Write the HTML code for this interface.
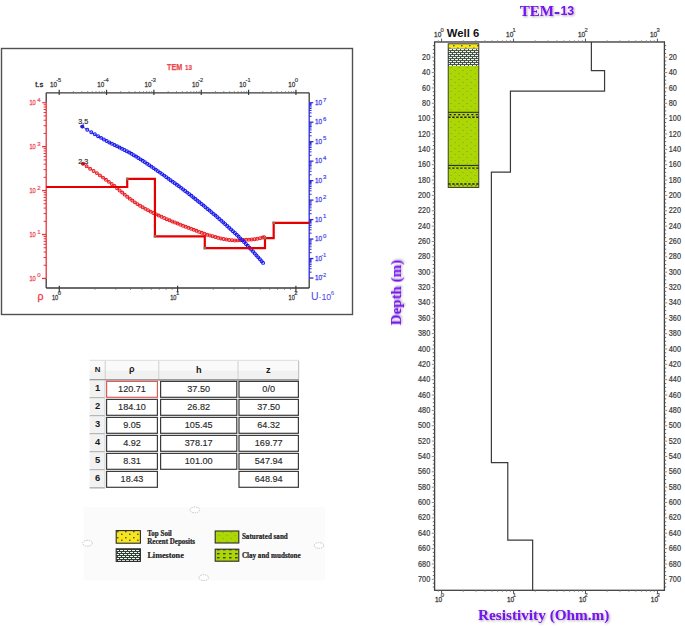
<!DOCTYPE html>
<html><head><meta charset="utf-8"><title>TEM-13</title>
<style>html,body{margin:0;padding:0;background:#fff;width:685px;height:626px;overflow:hidden;font-family:"Liberation Sans",sans-serif}svg{display:block}</style>
</head><body><svg width="685" height="626" viewBox="0 0 685 626"><defs>
<filter id="sh" x="-10%" y="-30%" width="120%" height="160%"><feGaussianBlur in="SourceAlpha" stdDeviation="0.8"/><feOffset dx="0.8" dy="1.2" result="b"/><feFlood flood-color="#000" flood-opacity="0.35"/><feComposite in2="b" operator="in"/><feMerge><feMergeNode/><feMergeNode in="SourceGraphic"/></feMerge></filter>
<pattern id="pTop" patternUnits="userSpaceOnUse" width="8" height="6" x="116" y="530"><rect width="8" height="6" fill="#f6e622"/><rect x="1" y="1" width="1.6" height="1.4" fill="#6b5e18"/><rect x="5" y="3.6" width="1.6" height="1.4" fill="#6b5e18"/></pattern>
<pattern id="pLimeL" patternUnits="userSpaceOnUse" width="8" height="4" x="116" y="550"><rect width="8" height="4" fill="#33403a"/><rect x="0" y="0" width="3" height="1" fill="#f0f5ec"/><rect x="4" y="0" width="3" height="1" fill="#f0f5ec"/><rect x="2" y="2" width="3" height="1" fill="#f0f5ec"/><rect x="6" y="2" width="3" height="1" fill="#f0f5ec"/><rect x="-2" y="2" width="3" height="1" fill="#f0f5ec"/></pattern>
<pattern id="pLime" patternUnits="userSpaceOnUse" width="8" height="4" x="449" y="49"><rect width="8" height="4" fill="#3a4a3e"/><rect x="0" y="0" width="3" height="1.1" fill="#f0f5ec"/><rect x="4" y="0" width="3" height="1.1" fill="#f0f5ec"/><rect x="2" y="2" width="3" height="1.1" fill="#f0f5ec"/><rect x="6" y="2" width="3" height="1.1" fill="#f0f5ec"/><rect x="-2" y="2" width="3" height="1.1" fill="#f0f5ec"/></pattern>
<pattern id="pSand" patternUnits="userSpaceOnUse" width="8" height="6" x="449" y="66"><rect width="8" height="6" fill="#acd605"/><rect x="1.6" y="1" width="1" height="1" fill="#86aa08"/><rect x="5.6" y="4" width="1" height="1" fill="#86aa08"/></pattern>
<pattern id="pClay" patternUnits="userSpaceOnUse" width="6" height="4"><rect width="6" height="4" fill="#acd605"/><rect x="1" y="1.2" width="2.6" height="1.1" fill="#222"/></pattern>
<pattern id="pClayB" patternUnits="userSpaceOnUse" width="5" height="200" y="0"><rect width="5" height="200" fill="#acd605"/></pattern>
</defs><rect x="1.5" y="48.5" width="351" height="266" fill="#fff" stroke="#505050" stroke-width="1.4"/><line x1="46.2" y1="92.8" x2="309.2" y2="92.8" stroke="#3a3a3a" stroke-width="1.3"/><line x1="46.2" y1="288" x2="309.2" y2="288" stroke="#3a3a3a" stroke-width="1.3"/><line x1="46.2" y1="92.8" x2="46.2" y2="102.73" stroke="#3a3a3a" stroke-width="1.3"/><line x1="46.2" y1="102.73" x2="46.2" y2="278.45" stroke="#e8333a" stroke-width="1.3"/><line x1="46.2" y1="278.45" x2="46.2" y2="288" stroke="#3a3a3a" stroke-width="1.3"/><line x1="309.2" y1="92.8" x2="309.2" y2="102.7" stroke="#3a3a3a" stroke-width="1.3"/><line x1="309.2" y1="102.7" x2="309.2" y2="278.02" stroke="#2b2bd8" stroke-width="1.3"/><line x1="309.2" y1="278.02" x2="309.2" y2="288" stroke="#3a3a3a" stroke-width="1.3"/><line x1="59.2" y1="89.8" x2="59.2" y2="95" stroke="#3a3a3a" stroke-width="1.2"/><line x1="73.45" y1="91.2" x2="73.45" y2="92.8" stroke="#666" stroke-width="0.8"/><line x1="81.79" y1="91.2" x2="81.79" y2="92.8" stroke="#666" stroke-width="0.8"/><line x1="87.71" y1="91.2" x2="87.71" y2="92.8" stroke="#666" stroke-width="0.8"/><line x1="92.3" y1="91.2" x2="92.3" y2="92.8" stroke="#666" stroke-width="0.8"/><line x1="96.05" y1="91.2" x2="96.05" y2="92.8" stroke="#666" stroke-width="0.8"/><line x1="99.22" y1="91.2" x2="99.22" y2="92.8" stroke="#666" stroke-width="0.8"/><line x1="101.96" y1="91.2" x2="101.96" y2="92.8" stroke="#666" stroke-width="0.8"/><line x1="104.38" y1="91.2" x2="104.38" y2="92.8" stroke="#666" stroke-width="0.8"/><line x1="106.55" y1="89.8" x2="106.55" y2="95" stroke="#3a3a3a" stroke-width="1.2"/><line x1="120.8" y1="91.2" x2="120.8" y2="92.8" stroke="#666" stroke-width="0.8"/><line x1="129.14" y1="91.2" x2="129.14" y2="92.8" stroke="#666" stroke-width="0.8"/><line x1="135.06" y1="91.2" x2="135.06" y2="92.8" stroke="#666" stroke-width="0.8"/><line x1="139.65" y1="91.2" x2="139.65" y2="92.8" stroke="#666" stroke-width="0.8"/><line x1="143.4" y1="91.2" x2="143.4" y2="92.8" stroke="#666" stroke-width="0.8"/><line x1="146.57" y1="91.2" x2="146.57" y2="92.8" stroke="#666" stroke-width="0.8"/><line x1="149.31" y1="91.2" x2="149.31" y2="92.8" stroke="#666" stroke-width="0.8"/><line x1="151.73" y1="91.2" x2="151.73" y2="92.8" stroke="#666" stroke-width="0.8"/><line x1="153.9" y1="89.8" x2="153.9" y2="95" stroke="#3a3a3a" stroke-width="1.2"/><line x1="168.15" y1="91.2" x2="168.15" y2="92.8" stroke="#666" stroke-width="0.8"/><line x1="176.49" y1="91.2" x2="176.49" y2="92.8" stroke="#666" stroke-width="0.8"/><line x1="182.41" y1="91.2" x2="182.41" y2="92.8" stroke="#666" stroke-width="0.8"/><line x1="187" y1="91.2" x2="187" y2="92.8" stroke="#666" stroke-width="0.8"/><line x1="190.75" y1="91.2" x2="190.75" y2="92.8" stroke="#666" stroke-width="0.8"/><line x1="193.92" y1="91.2" x2="193.92" y2="92.8" stroke="#666" stroke-width="0.8"/><line x1="196.66" y1="91.2" x2="196.66" y2="92.8" stroke="#666" stroke-width="0.8"/><line x1="199.08" y1="91.2" x2="199.08" y2="92.8" stroke="#666" stroke-width="0.8"/><line x1="201.25" y1="89.8" x2="201.25" y2="95" stroke="#3a3a3a" stroke-width="1.2"/><line x1="215.5" y1="91.2" x2="215.5" y2="92.8" stroke="#666" stroke-width="0.8"/><line x1="223.84" y1="91.2" x2="223.84" y2="92.8" stroke="#666" stroke-width="0.8"/><line x1="229.76" y1="91.2" x2="229.76" y2="92.8" stroke="#666" stroke-width="0.8"/><line x1="234.35" y1="91.2" x2="234.35" y2="92.8" stroke="#666" stroke-width="0.8"/><line x1="238.1" y1="91.2" x2="238.1" y2="92.8" stroke="#666" stroke-width="0.8"/><line x1="241.27" y1="91.2" x2="241.27" y2="92.8" stroke="#666" stroke-width="0.8"/><line x1="244.01" y1="91.2" x2="244.01" y2="92.8" stroke="#666" stroke-width="0.8"/><line x1="246.43" y1="91.2" x2="246.43" y2="92.8" stroke="#666" stroke-width="0.8"/><line x1="248.6" y1="89.8" x2="248.6" y2="95" stroke="#3a3a3a" stroke-width="1.2"/><line x1="262.85" y1="91.2" x2="262.85" y2="92.8" stroke="#666" stroke-width="0.8"/><line x1="271.19" y1="91.2" x2="271.19" y2="92.8" stroke="#666" stroke-width="0.8"/><line x1="277.11" y1="91.2" x2="277.11" y2="92.8" stroke="#666" stroke-width="0.8"/><line x1="281.7" y1="91.2" x2="281.7" y2="92.8" stroke="#666" stroke-width="0.8"/><line x1="285.45" y1="91.2" x2="285.45" y2="92.8" stroke="#666" stroke-width="0.8"/><line x1="288.62" y1="91.2" x2="288.62" y2="92.8" stroke="#666" stroke-width="0.8"/><line x1="291.36" y1="91.2" x2="291.36" y2="92.8" stroke="#666" stroke-width="0.8"/><line x1="293.78" y1="91.2" x2="293.78" y2="92.8" stroke="#666" stroke-width="0.8"/><line x1="295.95" y1="89.8" x2="295.95" y2="95" stroke="#3a3a3a" stroke-width="1.2"/><text x="49.9" y="86.6" font-size="7.8" fill="#3c3c3c" stroke="#3c3c3c" stroke-width="0.3" font-family='"Liberation Sans", sans-serif' textLength="7" lengthAdjust="spacingAndGlyphs">10</text><text x="56.2" y="81.6" font-size="6" fill="#3c3c3c" stroke="#3c3c3c" stroke-width="0.2" font-family='"Liberation Sans", sans-serif' textLength="5" lengthAdjust="spacingAndGlyphs">-5</text><text x="97.25" y="86.6" font-size="7.8" fill="#3c3c3c" stroke="#3c3c3c" stroke-width="0.3" font-family='"Liberation Sans", sans-serif' textLength="7" lengthAdjust="spacingAndGlyphs">10</text><text x="103.55" y="81.6" font-size="6" fill="#3c3c3c" stroke="#3c3c3c" stroke-width="0.2" font-family='"Liberation Sans", sans-serif' textLength="5" lengthAdjust="spacingAndGlyphs">-4</text><text x="144.6" y="86.6" font-size="7.8" fill="#3c3c3c" stroke="#3c3c3c" stroke-width="0.3" font-family='"Liberation Sans", sans-serif' textLength="7" lengthAdjust="spacingAndGlyphs">10</text><text x="150.9" y="81.6" font-size="6" fill="#3c3c3c" stroke="#3c3c3c" stroke-width="0.2" font-family='"Liberation Sans", sans-serif' textLength="5" lengthAdjust="spacingAndGlyphs">-3</text><text x="191.95" y="86.6" font-size="7.8" fill="#3c3c3c" stroke="#3c3c3c" stroke-width="0.3" font-family='"Liberation Sans", sans-serif' textLength="7" lengthAdjust="spacingAndGlyphs">10</text><text x="198.25" y="81.6" font-size="6" fill="#3c3c3c" stroke="#3c3c3c" stroke-width="0.2" font-family='"Liberation Sans", sans-serif' textLength="5" lengthAdjust="spacingAndGlyphs">-2</text><text x="239.3" y="86.6" font-size="7.8" fill="#3c3c3c" stroke="#3c3c3c" stroke-width="0.3" font-family='"Liberation Sans", sans-serif' textLength="7" lengthAdjust="spacingAndGlyphs">10</text><text x="245.6" y="81.6" font-size="6" fill="#3c3c3c" stroke="#3c3c3c" stroke-width="0.2" font-family='"Liberation Sans", sans-serif' textLength="5" lengthAdjust="spacingAndGlyphs">-1</text><text x="288.15" y="86.6" font-size="7.8" fill="#3c3c3c" stroke="#3c3c3c" stroke-width="0.3" font-family='"Liberation Sans", sans-serif' textLength="7" lengthAdjust="spacingAndGlyphs">10</text><text x="294.75" y="81.6" font-size="6" fill="#3c3c3c" stroke="#3c3c3c" stroke-width="0.2" font-family='"Liberation Sans", sans-serif' >0</text><text x="43.2" y="87.4" font-size="7.6" fill="#2a2a2a" text-anchor="end" font-weight="normal" font-family='"Liberation Sans", sans-serif' stroke="#2a2a2a" stroke-width="0.3">t.s</text><text x="167.1" y="70" font-family='"Liberation Sans", sans-serif' font-weight="bold" fill="#ec4a50" stroke="#ec4a50" stroke-width="0.25" font-size="8.6" textLength="15.2" lengthAdjust="spacingAndGlyphs">TEM</text><text x="185.0" y="70" font-family='"Liberation Sans", sans-serif' font-weight="bold" fill="#ec4a50" stroke="#ec4a50" stroke-width="0.2" font-size="7" textLength="7.0" lengthAdjust="spacingAndGlyphs">13</text><line x1="42" y1="278.45" x2="46.2" y2="278.45" stroke="#e8333a" stroke-width="1.3"/><line x1="43.6" y1="265.23" x2="46.2" y2="265.23" stroke="#e8333a" stroke-width="1"/><line x1="43.6" y1="257.49" x2="46.2" y2="257.49" stroke="#e8333a" stroke-width="1"/><line x1="43.6" y1="252" x2="46.2" y2="252" stroke="#e8333a" stroke-width="1"/><line x1="43.6" y1="247.74" x2="46.2" y2="247.74" stroke="#e8333a" stroke-width="1"/><line x1="43.6" y1="244.27" x2="46.2" y2="244.27" stroke="#e8333a" stroke-width="1"/><line x1="43.6" y1="241.32" x2="46.2" y2="241.32" stroke="#e8333a" stroke-width="1"/><line x1="43.6" y1="238.78" x2="46.2" y2="238.78" stroke="#e8333a" stroke-width="1"/><line x1="43.6" y1="236.53" x2="46.2" y2="236.53" stroke="#e8333a" stroke-width="1"/><line x1="42" y1="234.52" x2="46.2" y2="234.52" stroke="#e8333a" stroke-width="1.3"/><line x1="43.6" y1="221.3" x2="46.2" y2="221.3" stroke="#e8333a" stroke-width="1"/><line x1="43.6" y1="213.56" x2="46.2" y2="213.56" stroke="#e8333a" stroke-width="1"/><line x1="43.6" y1="208.07" x2="46.2" y2="208.07" stroke="#e8333a" stroke-width="1"/><line x1="43.6" y1="203.81" x2="46.2" y2="203.81" stroke="#e8333a" stroke-width="1"/><line x1="43.6" y1="200.34" x2="46.2" y2="200.34" stroke="#e8333a" stroke-width="1"/><line x1="43.6" y1="197.39" x2="46.2" y2="197.39" stroke="#e8333a" stroke-width="1"/><line x1="43.6" y1="194.85" x2="46.2" y2="194.85" stroke="#e8333a" stroke-width="1"/><line x1="43.6" y1="192.6" x2="46.2" y2="192.6" stroke="#e8333a" stroke-width="1"/><line x1="42" y1="190.59" x2="46.2" y2="190.59" stroke="#e8333a" stroke-width="1.3"/><line x1="43.6" y1="177.37" x2="46.2" y2="177.37" stroke="#e8333a" stroke-width="1"/><line x1="43.6" y1="169.63" x2="46.2" y2="169.63" stroke="#e8333a" stroke-width="1"/><line x1="43.6" y1="164.14" x2="46.2" y2="164.14" stroke="#e8333a" stroke-width="1"/><line x1="43.6" y1="159.88" x2="46.2" y2="159.88" stroke="#e8333a" stroke-width="1"/><line x1="43.6" y1="156.41" x2="46.2" y2="156.41" stroke="#e8333a" stroke-width="1"/><line x1="43.6" y1="153.46" x2="46.2" y2="153.46" stroke="#e8333a" stroke-width="1"/><line x1="43.6" y1="150.92" x2="46.2" y2="150.92" stroke="#e8333a" stroke-width="1"/><line x1="43.6" y1="148.67" x2="46.2" y2="148.67" stroke="#e8333a" stroke-width="1"/><line x1="42" y1="146.66" x2="46.2" y2="146.66" stroke="#e8333a" stroke-width="1.3"/><line x1="43.6" y1="133.44" x2="46.2" y2="133.44" stroke="#e8333a" stroke-width="1"/><line x1="43.6" y1="125.7" x2="46.2" y2="125.7" stroke="#e8333a" stroke-width="1"/><line x1="43.6" y1="120.21" x2="46.2" y2="120.21" stroke="#e8333a" stroke-width="1"/><line x1="43.6" y1="115.95" x2="46.2" y2="115.95" stroke="#e8333a" stroke-width="1"/><line x1="43.6" y1="112.48" x2="46.2" y2="112.48" stroke="#e8333a" stroke-width="1"/><line x1="43.6" y1="109.53" x2="46.2" y2="109.53" stroke="#e8333a" stroke-width="1"/><line x1="43.6" y1="106.99" x2="46.2" y2="106.99" stroke="#e8333a" stroke-width="1"/><line x1="43.6" y1="104.74" x2="46.2" y2="104.74" stroke="#e8333a" stroke-width="1"/><line x1="42.2" y1="102.73" x2="46.2" y2="102.73" stroke="#e8333a" stroke-width="1.2"/><text x="29.4" y="280.55" font-size="7.8" fill="#ee4a52" stroke="#ee4a52" stroke-width="0.3" font-family='"Liberation Sans", sans-serif' textLength="6.4" lengthAdjust="spacingAndGlyphs">10</text><text x="37.2" y="277.45" font-size="6" fill="#ee4a52" stroke="#ee4a52" stroke-width="0.2" font-family='"Liberation Sans", sans-serif' >0</text><text x="29.4" y="236.62" font-size="7.8" fill="#ee4a52" stroke="#ee4a52" stroke-width="0.3" font-family='"Liberation Sans", sans-serif' textLength="6.4" lengthAdjust="spacingAndGlyphs">10</text><text x="37.2" y="233.52" font-size="6" fill="#ee4a52" stroke="#ee4a52" stroke-width="0.2" font-family='"Liberation Sans", sans-serif' >1</text><text x="29.4" y="192.69" font-size="7.8" fill="#ee4a52" stroke="#ee4a52" stroke-width="0.3" font-family='"Liberation Sans", sans-serif' textLength="6.4" lengthAdjust="spacingAndGlyphs">10</text><text x="37.2" y="189.59" font-size="6" fill="#ee4a52" stroke="#ee4a52" stroke-width="0.2" font-family='"Liberation Sans", sans-serif' >2</text><text x="29.4" y="148.76" font-size="7.8" fill="#ee4a52" stroke="#ee4a52" stroke-width="0.3" font-family='"Liberation Sans", sans-serif' textLength="6.4" lengthAdjust="spacingAndGlyphs">10</text><text x="37.2" y="145.66" font-size="6" fill="#ee4a52" stroke="#ee4a52" stroke-width="0.2" font-family='"Liberation Sans", sans-serif' >3</text><text x="29.4" y="104.83" font-size="7.8" fill="#ee4a52" stroke="#ee4a52" stroke-width="0.3" font-family='"Liberation Sans", sans-serif' textLength="6.4" lengthAdjust="spacingAndGlyphs">10</text><text x="37.2" y="101.73" font-size="6" fill="#ee4a52" stroke="#ee4a52" stroke-width="0.2" font-family='"Liberation Sans", sans-serif' >4</text><line x1="309.2" y1="278.02" x2="313.4" y2="278.02" stroke="#2b2bd8" stroke-width="1.3"/><line x1="309.2" y1="272.16" x2="311.6" y2="272.16" stroke="#2b2bd8" stroke-width="1"/><line x1="309.2" y1="268.73" x2="311.6" y2="268.73" stroke="#2b2bd8" stroke-width="1"/><line x1="309.2" y1="266.29" x2="311.6" y2="266.29" stroke="#2b2bd8" stroke-width="1"/><line x1="309.2" y1="264.4" x2="311.6" y2="264.4" stroke="#2b2bd8" stroke-width="1"/><line x1="309.2" y1="262.86" x2="311.6" y2="262.86" stroke="#2b2bd8" stroke-width="1"/><line x1="309.2" y1="261.56" x2="311.6" y2="261.56" stroke="#2b2bd8" stroke-width="1"/><line x1="309.2" y1="260.43" x2="311.6" y2="260.43" stroke="#2b2bd8" stroke-width="1"/><line x1="309.2" y1="259.43" x2="311.6" y2="259.43" stroke="#2b2bd8" stroke-width="1"/><line x1="309.2" y1="258.54" x2="313.4" y2="258.54" stroke="#2b2bd8" stroke-width="1.3"/><line x1="309.2" y1="252.68" x2="311.6" y2="252.68" stroke="#2b2bd8" stroke-width="1"/><line x1="309.2" y1="249.25" x2="311.6" y2="249.25" stroke="#2b2bd8" stroke-width="1"/><line x1="309.2" y1="246.81" x2="311.6" y2="246.81" stroke="#2b2bd8" stroke-width="1"/><line x1="309.2" y1="244.92" x2="311.6" y2="244.92" stroke="#2b2bd8" stroke-width="1"/><line x1="309.2" y1="243.38" x2="311.6" y2="243.38" stroke="#2b2bd8" stroke-width="1"/><line x1="309.2" y1="242.08" x2="311.6" y2="242.08" stroke="#2b2bd8" stroke-width="1"/><line x1="309.2" y1="240.95" x2="311.6" y2="240.95" stroke="#2b2bd8" stroke-width="1"/><line x1="309.2" y1="239.95" x2="311.6" y2="239.95" stroke="#2b2bd8" stroke-width="1"/><line x1="309.2" y1="239.06" x2="313.4" y2="239.06" stroke="#2b2bd8" stroke-width="1.3"/><line x1="309.2" y1="233.2" x2="311.6" y2="233.2" stroke="#2b2bd8" stroke-width="1"/><line x1="309.2" y1="229.77" x2="311.6" y2="229.77" stroke="#2b2bd8" stroke-width="1"/><line x1="309.2" y1="227.33" x2="311.6" y2="227.33" stroke="#2b2bd8" stroke-width="1"/><line x1="309.2" y1="225.44" x2="311.6" y2="225.44" stroke="#2b2bd8" stroke-width="1"/><line x1="309.2" y1="223.9" x2="311.6" y2="223.9" stroke="#2b2bd8" stroke-width="1"/><line x1="309.2" y1="222.6" x2="311.6" y2="222.6" stroke="#2b2bd8" stroke-width="1"/><line x1="309.2" y1="221.47" x2="311.6" y2="221.47" stroke="#2b2bd8" stroke-width="1"/><line x1="309.2" y1="220.47" x2="311.6" y2="220.47" stroke="#2b2bd8" stroke-width="1"/><line x1="309.2" y1="219.58" x2="313.4" y2="219.58" stroke="#2b2bd8" stroke-width="1.3"/><line x1="309.2" y1="213.72" x2="311.6" y2="213.72" stroke="#2b2bd8" stroke-width="1"/><line x1="309.2" y1="210.29" x2="311.6" y2="210.29" stroke="#2b2bd8" stroke-width="1"/><line x1="309.2" y1="207.85" x2="311.6" y2="207.85" stroke="#2b2bd8" stroke-width="1"/><line x1="309.2" y1="205.96" x2="311.6" y2="205.96" stroke="#2b2bd8" stroke-width="1"/><line x1="309.2" y1="204.42" x2="311.6" y2="204.42" stroke="#2b2bd8" stroke-width="1"/><line x1="309.2" y1="203.12" x2="311.6" y2="203.12" stroke="#2b2bd8" stroke-width="1"/><line x1="309.2" y1="201.99" x2="311.6" y2="201.99" stroke="#2b2bd8" stroke-width="1"/><line x1="309.2" y1="200.99" x2="311.6" y2="200.99" stroke="#2b2bd8" stroke-width="1"/><line x1="309.2" y1="200.1" x2="313.4" y2="200.1" stroke="#2b2bd8" stroke-width="1.3"/><line x1="309.2" y1="194.24" x2="311.6" y2="194.24" stroke="#2b2bd8" stroke-width="1"/><line x1="309.2" y1="190.81" x2="311.6" y2="190.81" stroke="#2b2bd8" stroke-width="1"/><line x1="309.2" y1="188.37" x2="311.6" y2="188.37" stroke="#2b2bd8" stroke-width="1"/><line x1="309.2" y1="186.48" x2="311.6" y2="186.48" stroke="#2b2bd8" stroke-width="1"/><line x1="309.2" y1="184.94" x2="311.6" y2="184.94" stroke="#2b2bd8" stroke-width="1"/><line x1="309.2" y1="183.64" x2="311.6" y2="183.64" stroke="#2b2bd8" stroke-width="1"/><line x1="309.2" y1="182.51" x2="311.6" y2="182.51" stroke="#2b2bd8" stroke-width="1"/><line x1="309.2" y1="181.51" x2="311.6" y2="181.51" stroke="#2b2bd8" stroke-width="1"/><line x1="309.2" y1="180.62" x2="313.4" y2="180.62" stroke="#2b2bd8" stroke-width="1.3"/><line x1="309.2" y1="174.76" x2="311.6" y2="174.76" stroke="#2b2bd8" stroke-width="1"/><line x1="309.2" y1="171.33" x2="311.6" y2="171.33" stroke="#2b2bd8" stroke-width="1"/><line x1="309.2" y1="168.89" x2="311.6" y2="168.89" stroke="#2b2bd8" stroke-width="1"/><line x1="309.2" y1="167" x2="311.6" y2="167" stroke="#2b2bd8" stroke-width="1"/><line x1="309.2" y1="165.46" x2="311.6" y2="165.46" stroke="#2b2bd8" stroke-width="1"/><line x1="309.2" y1="164.16" x2="311.6" y2="164.16" stroke="#2b2bd8" stroke-width="1"/><line x1="309.2" y1="163.03" x2="311.6" y2="163.03" stroke="#2b2bd8" stroke-width="1"/><line x1="309.2" y1="162.03" x2="311.6" y2="162.03" stroke="#2b2bd8" stroke-width="1"/><line x1="309.2" y1="161.14" x2="313.4" y2="161.14" stroke="#2b2bd8" stroke-width="1.3"/><line x1="309.2" y1="155.28" x2="311.6" y2="155.28" stroke="#2b2bd8" stroke-width="1"/><line x1="309.2" y1="151.85" x2="311.6" y2="151.85" stroke="#2b2bd8" stroke-width="1"/><line x1="309.2" y1="149.41" x2="311.6" y2="149.41" stroke="#2b2bd8" stroke-width="1"/><line x1="309.2" y1="147.52" x2="311.6" y2="147.52" stroke="#2b2bd8" stroke-width="1"/><line x1="309.2" y1="145.98" x2="311.6" y2="145.98" stroke="#2b2bd8" stroke-width="1"/><line x1="309.2" y1="144.68" x2="311.6" y2="144.68" stroke="#2b2bd8" stroke-width="1"/><line x1="309.2" y1="143.55" x2="311.6" y2="143.55" stroke="#2b2bd8" stroke-width="1"/><line x1="309.2" y1="142.55" x2="311.6" y2="142.55" stroke="#2b2bd8" stroke-width="1"/><line x1="309.2" y1="141.66" x2="313.4" y2="141.66" stroke="#2b2bd8" stroke-width="1.3"/><line x1="309.2" y1="135.8" x2="311.6" y2="135.8" stroke="#2b2bd8" stroke-width="1"/><line x1="309.2" y1="132.37" x2="311.6" y2="132.37" stroke="#2b2bd8" stroke-width="1"/><line x1="309.2" y1="129.93" x2="311.6" y2="129.93" stroke="#2b2bd8" stroke-width="1"/><line x1="309.2" y1="128.04" x2="311.6" y2="128.04" stroke="#2b2bd8" stroke-width="1"/><line x1="309.2" y1="126.5" x2="311.6" y2="126.5" stroke="#2b2bd8" stroke-width="1"/><line x1="309.2" y1="125.2" x2="311.6" y2="125.2" stroke="#2b2bd8" stroke-width="1"/><line x1="309.2" y1="124.07" x2="311.6" y2="124.07" stroke="#2b2bd8" stroke-width="1"/><line x1="309.2" y1="123.07" x2="311.6" y2="123.07" stroke="#2b2bd8" stroke-width="1"/><line x1="309.2" y1="122.18" x2="313.4" y2="122.18" stroke="#2b2bd8" stroke-width="1.3"/><line x1="309.2" y1="116.32" x2="311.6" y2="116.32" stroke="#2b2bd8" stroke-width="1"/><line x1="309.2" y1="112.89" x2="311.6" y2="112.89" stroke="#2b2bd8" stroke-width="1"/><line x1="309.2" y1="110.45" x2="311.6" y2="110.45" stroke="#2b2bd8" stroke-width="1"/><line x1="309.2" y1="108.56" x2="311.6" y2="108.56" stroke="#2b2bd8" stroke-width="1"/><line x1="309.2" y1="107.02" x2="311.6" y2="107.02" stroke="#2b2bd8" stroke-width="1"/><line x1="309.2" y1="105.72" x2="311.6" y2="105.72" stroke="#2b2bd8" stroke-width="1"/><line x1="309.2" y1="104.59" x2="311.6" y2="104.59" stroke="#2b2bd8" stroke-width="1"/><line x1="309.2" y1="103.59" x2="311.6" y2="103.59" stroke="#2b2bd8" stroke-width="1"/><line x1="309.2" y1="102.7" x2="313.2" y2="102.7" stroke="#2b2bd8" stroke-width="1.2"/><text x="314.9" y="280.02" font-size="7.8" fill="#4646ee" stroke="#4646ee" stroke-width="0.3" font-family='"Liberation Sans", sans-serif' textLength="7.1" lengthAdjust="spacingAndGlyphs">10</text><text x="321.6" y="276.82" font-size="6" fill="#4646ee" stroke="#4646ee" stroke-width="0.2" font-family='"Liberation Sans", sans-serif' textLength="4.6" lengthAdjust="spacingAndGlyphs">-2</text><text x="314.9" y="260.54" font-size="7.8" fill="#4646ee" stroke="#4646ee" stroke-width="0.3" font-family='"Liberation Sans", sans-serif' textLength="7.1" lengthAdjust="spacingAndGlyphs">10</text><text x="321.6" y="257.34" font-size="6" fill="#4646ee" stroke="#4646ee" stroke-width="0.2" font-family='"Liberation Sans", sans-serif' textLength="4.6" lengthAdjust="spacingAndGlyphs">-1</text><text x="314.9" y="241.06" font-size="7.8" fill="#4646ee" stroke="#4646ee" stroke-width="0.3" font-family='"Liberation Sans", sans-serif' textLength="7.1" lengthAdjust="spacingAndGlyphs">10</text><text x="322.9" y="237.86" font-size="6" fill="#4646ee" stroke="#4646ee" stroke-width="0.2" font-family='"Liberation Sans", sans-serif' >0</text><text x="314.9" y="221.58" font-size="7.8" fill="#4646ee" stroke="#4646ee" stroke-width="0.3" font-family='"Liberation Sans", sans-serif' textLength="7.1" lengthAdjust="spacingAndGlyphs">10</text><text x="322.9" y="218.38" font-size="6" fill="#4646ee" stroke="#4646ee" stroke-width="0.2" font-family='"Liberation Sans", sans-serif' >1</text><text x="314.9" y="202.1" font-size="7.8" fill="#4646ee" stroke="#4646ee" stroke-width="0.3" font-family='"Liberation Sans", sans-serif' textLength="7.1" lengthAdjust="spacingAndGlyphs">10</text><text x="322.9" y="198.9" font-size="6" fill="#4646ee" stroke="#4646ee" stroke-width="0.2" font-family='"Liberation Sans", sans-serif' >2</text><text x="314.9" y="182.62" font-size="7.8" fill="#4646ee" stroke="#4646ee" stroke-width="0.3" font-family='"Liberation Sans", sans-serif' textLength="7.1" lengthAdjust="spacingAndGlyphs">10</text><text x="322.9" y="179.42" font-size="6" fill="#4646ee" stroke="#4646ee" stroke-width="0.2" font-family='"Liberation Sans", sans-serif' >3</text><text x="314.9" y="163.14" font-size="7.8" fill="#4646ee" stroke="#4646ee" stroke-width="0.3" font-family='"Liberation Sans", sans-serif' textLength="7.1" lengthAdjust="spacingAndGlyphs">10</text><text x="322.9" y="159.94" font-size="6" fill="#4646ee" stroke="#4646ee" stroke-width="0.2" font-family='"Liberation Sans", sans-serif' >4</text><text x="314.9" y="143.66" font-size="7.8" fill="#4646ee" stroke="#4646ee" stroke-width="0.3" font-family='"Liberation Sans", sans-serif' textLength="7.1" lengthAdjust="spacingAndGlyphs">10</text><text x="322.9" y="140.46" font-size="6" fill="#4646ee" stroke="#4646ee" stroke-width="0.2" font-family='"Liberation Sans", sans-serif' >5</text><text x="314.9" y="124.18" font-size="7.8" fill="#4646ee" stroke="#4646ee" stroke-width="0.3" font-family='"Liberation Sans", sans-serif' textLength="7.1" lengthAdjust="spacingAndGlyphs">10</text><text x="322.9" y="120.98" font-size="6" fill="#4646ee" stroke="#4646ee" stroke-width="0.2" font-family='"Liberation Sans", sans-serif' >6</text><text x="314.9" y="104.7" font-size="7.8" fill="#4646ee" stroke="#4646ee" stroke-width="0.3" font-family='"Liberation Sans", sans-serif' textLength="7.1" lengthAdjust="spacingAndGlyphs">10</text><text x="322.9" y="101.5" font-size="6" fill="#4646ee" stroke="#4646ee" stroke-width="0.2" font-family='"Liberation Sans", sans-serif' >7</text><line x1="59.3" y1="285.8" x2="59.3" y2="292.5" stroke="#3a3a3a" stroke-width="1.2"/><line x1="94.91" y1="288" x2="94.91" y2="289.8" stroke="#666" stroke-width="0.8"/><line x1="115.74" y1="288" x2="115.74" y2="289.8" stroke="#666" stroke-width="0.8"/><line x1="130.52" y1="288" x2="130.52" y2="289.8" stroke="#666" stroke-width="0.8"/><line x1="141.99" y1="288" x2="141.99" y2="289.8" stroke="#666" stroke-width="0.8"/><line x1="151.36" y1="288" x2="151.36" y2="289.8" stroke="#666" stroke-width="0.8"/><line x1="159.28" y1="288" x2="159.28" y2="289.8" stroke="#666" stroke-width="0.8"/><line x1="166.14" y1="288" x2="166.14" y2="289.8" stroke="#666" stroke-width="0.8"/><line x1="172.19" y1="288" x2="172.19" y2="289.8" stroke="#666" stroke-width="0.8"/><line x1="177.6" y1="285.8" x2="177.6" y2="292.5" stroke="#3a3a3a" stroke-width="1.2"/><line x1="213.21" y1="288" x2="213.21" y2="289.8" stroke="#666" stroke-width="0.8"/><line x1="234.04" y1="288" x2="234.04" y2="289.8" stroke="#666" stroke-width="0.8"/><line x1="248.82" y1="288" x2="248.82" y2="289.8" stroke="#666" stroke-width="0.8"/><line x1="260.29" y1="288" x2="260.29" y2="289.8" stroke="#666" stroke-width="0.8"/><line x1="269.66" y1="288" x2="269.66" y2="289.8" stroke="#666" stroke-width="0.8"/><line x1="277.58" y1="288" x2="277.58" y2="289.8" stroke="#666" stroke-width="0.8"/><line x1="284.44" y1="288" x2="284.44" y2="289.8" stroke="#666" stroke-width="0.8"/><line x1="290.49" y1="288" x2="290.49" y2="289.8" stroke="#666" stroke-width="0.8"/><line x1="295.9" y1="285.8" x2="295.9" y2="292.5" stroke="#3a3a3a" stroke-width="1.2"/><text x="51.9" y="300" font-size="7.8" fill="#3c3c3c" stroke="#3c3c3c" stroke-width="0.3" font-family='"Liberation Sans", sans-serif' textLength="6.3" lengthAdjust="spacingAndGlyphs">10</text><text x="57.7" y="295.4" font-size="6" fill="#3c3c3c" stroke="#3c3c3c" stroke-width="0.2" font-family='"Liberation Sans", sans-serif' >0</text><text x="170.2" y="300" font-size="7.8" fill="#3c3c3c" stroke="#3c3c3c" stroke-width="0.3" font-family='"Liberation Sans", sans-serif' textLength="6.3" lengthAdjust="spacingAndGlyphs">10</text><text x="176" y="295.4" font-size="6" fill="#3c3c3c" stroke="#3c3c3c" stroke-width="0.2" font-family='"Liberation Sans", sans-serif' >1</text><text x="288.5" y="300" font-size="7.8" fill="#3c3c3c" stroke="#3c3c3c" stroke-width="0.3" font-family='"Liberation Sans", sans-serif' textLength="6.3" lengthAdjust="spacingAndGlyphs">10</text><text x="294.3" y="295.4" font-size="6" fill="#3c3c3c" stroke="#3c3c3c" stroke-width="0.2" font-family='"Liberation Sans", sans-serif' >2</text><text x="37.4" y="300.4" font-size="10.5" fill="#f03c46" text-anchor="start" font-weight="normal" font-family='"Liberation Sans", sans-serif' stroke="#f03c46" stroke-width="0.3">ρ</text><text x="311.0" y="300.2" font-family='"Liberation Sans", sans-serif' fill="#4646ee" font-size="10.4">U<tspan font-size="8.8" dx="0">·10</tspan><tspan font-size="6.2" dy="-5.2" dx="-0.4">6</tspan></text><polyline points="83.1,163.7 88.45,167.65 93.12,170.7 97.5,173.52 101.9,176.8 106.28,180.05 110.62,183.05 115,186.45 119.4,190.25 123.8,193.9 128.18,197.4 132.75,200.9 138.53,204.83 146.22,209.38 156.15,214.4 169.15,220.17 182.22,225.4 191.72,229 199.23,231.93 205.82,234.25 211.68,236.02 217.53,237.65 223.38,238.97 229.2,240.03 235.03,240.55 240.57,240.22 245.22,239.75 249.6,239.62 254.6,239.22 259.57,238.32 264.2,237.2" fill="none" stroke="#e81c22" stroke-width="0.8"/><g fill="none" stroke="#e81c22" stroke-width="1.05"><circle cx="83.1" cy="163.7" r="1.45"/><circle cx="86.64" cy="166.31" r="1.45"/><circle cx="90.11" cy="168.73" r="1.45"/><circle cx="93.54" cy="170.97" r="1.45"/><circle cx="96.87" cy="173.12" r="1.45"/><circle cx="99.99" cy="175.38" r="1.45"/><circle cx="103" cy="177.62" r="1.45"/><circle cx="105.95" cy="179.81" r="1.45"/><circle cx="108.9" cy="181.86" r="1.45"/><circle cx="111.76" cy="183.93" r="1.45"/><circle cx="114.49" cy="186.06" r="1.45"/><circle cx="117.09" cy="188.26" r="1.45"/><circle cx="119.64" cy="190.45" r="1.45"/><circle cx="122.19" cy="192.57" r="1.45"/><circle cx="124.73" cy="194.64" r="1.45"/><circle cx="127.25" cy="196.66" r="1.45"/><circle cx="129.78" cy="198.63" r="1.45"/><circle cx="132.3" cy="200.56" r="1.45"/><circle cx="134.88" cy="202.35" r="1.45"/><circle cx="137.46" cy="204.1" r="1.45"/><circle cx="140.08" cy="205.74" r="1.45"/><circle cx="142.73" cy="207.31" r="1.45"/><circle cx="145.35" cy="208.86" r="1.45"/><circle cx="148.03" cy="210.29" r="1.45"/><circle cx="150.72" cy="211.65" r="1.45"/><circle cx="153.4" cy="213.01" r="1.45"/><circle cx="156.06" cy="214.35" r="1.45"/><circle cx="158.78" cy="215.57" r="1.45"/><circle cx="161.48" cy="216.77" r="1.45"/><circle cx="164.18" cy="217.97" r="1.45"/><circle cx="166.86" cy="219.16" r="1.45"/><circle cx="169.54" cy="220.33" r="1.45"/><circle cx="172.25" cy="221.42" r="1.45"/><circle cx="174.96" cy="222.5" r="1.45"/><circle cx="177.65" cy="223.57" r="1.45"/><circle cx="180.34" cy="224.65" r="1.45"/><circle cx="183.03" cy="225.71" r="1.45"/><circle cx="185.73" cy="226.73" r="1.45"/><circle cx="188.42" cy="227.75" r="1.45"/><circle cx="191.1" cy="228.76" r="1.45"/><circle cx="193.78" cy="229.8" r="1.45"/><circle cx="196.44" cy="230.84" r="1.45"/><circle cx="199.11" cy="231.88" r="1.45"/><circle cx="201.8" cy="232.83" r="1.45"/><circle cx="204.49" cy="233.78" r="1.45"/><circle cx="207.19" cy="234.66" r="1.45"/><circle cx="209.91" cy="235.49" r="1.45"/><circle cx="212.64" cy="236.29" r="1.45"/><circle cx="215.37" cy="237.05" r="1.45"/><circle cx="218.11" cy="237.78" r="1.45"/><circle cx="220.87" cy="238.41" r="1.45"/><circle cx="223.63" cy="239.02" r="1.45"/><circle cx="226.42" cy="239.52" r="1.45"/><circle cx="229.2" cy="240.03" r="1.45"/><circle cx="232.01" cy="240.28" r="1.45"/><circle cx="234.83" cy="240.53" r="1.45"/><circle cx="237.64" cy="240.4" r="1.45"/><circle cx="240.46" cy="240.23" r="1.45"/><circle cx="243.26" cy="239.95" r="1.45"/><circle cx="246.07" cy="239.73" r="1.45"/><circle cx="248.88" cy="239.65" r="1.45"/><circle cx="251.69" cy="239.46" r="1.45"/><circle cx="254.5" cy="239.23" r="1.45"/><circle cx="257.27" cy="238.74" r="1.45"/><circle cx="260.03" cy="238.21" r="1.45"/><circle cx="262.76" cy="237.55" r="1.45"/><circle cx="264.2" cy="237.2" r="1.45"/></g><polyline points="82.4,126.6 87.62,129.97 92.67,133.02 97.95,136.1 104.3,139.7 111.07,143.35 117.62,146.62 124.18,149.85 131.05,153.55 138.9,158.27 147.53,163.93 156.28,169.97 165.03,176.18 173.78,182.48 182.47,188.9 192.15,196.4 203.52,205.57 214.42,214.65 224.25,223.2 235.02,233.1 245.82,243.78 254.9,253.57 263.1,262.9" fill="none" stroke="#1616ee" stroke-width="0.8"/><g fill="none" stroke="#1616ee" stroke-width="1.05"><circle cx="82.4" cy="126.6" r="1.45"/><circle cx="87.27" cy="129.75" r="1.45"/><circle cx="91.3" cy="132.2" r="1.45"/><circle cx="94.84" cy="134.29" r="1.45"/><circle cx="98.06" cy="136.16" r="1.45"/><circle cx="101.07" cy="137.87" r="1.45"/><circle cx="103.92" cy="139.48" r="1.45"/><circle cx="106.67" cy="140.98" r="1.45"/><circle cx="109.34" cy="142.41" r="1.45"/><circle cx="111.94" cy="143.78" r="1.45"/><circle cx="114.52" cy="145.07" r="1.45"/><circle cx="117.04" cy="146.33" r="1.45"/><circle cx="119.54" cy="147.57" r="1.45"/><circle cx="122.01" cy="148.78" r="1.45"/><circle cx="124.45" cy="150" r="1.45"/><circle cx="126.83" cy="151.28" r="1.45"/><circle cx="129.19" cy="152.55" r="1.45"/><circle cx="131.53" cy="153.84" r="1.45"/><circle cx="133.81" cy="155.21" r="1.45"/><circle cx="136.08" cy="156.58" r="1.45"/><circle cx="138.34" cy="157.94" r="1.45"/><circle cx="140.55" cy="159.36" r="1.45"/><circle cx="142.75" cy="160.8" r="1.45"/><circle cx="144.94" cy="162.23" r="1.45"/><circle cx="147.14" cy="163.67" r="1.45"/><circle cx="149.29" cy="165.15" r="1.45"/><circle cx="151.44" cy="166.63" r="1.45"/><circle cx="153.59" cy="168.12" r="1.45"/><circle cx="155.74" cy="169.6" r="1.45"/><circle cx="157.87" cy="171.1" r="1.45"/><circle cx="159.99" cy="172.61" r="1.45"/><circle cx="162.12" cy="174.12" r="1.45"/><circle cx="164.24" cy="175.62" r="1.45"/><circle cx="166.36" cy="177.14" r="1.45"/><circle cx="168.47" cy="178.66" r="1.45"/><circle cx="170.59" cy="180.18" r="1.45"/><circle cx="172.7" cy="181.7" r="1.45"/><circle cx="174.8" cy="183.23" r="1.45"/><circle cx="176.89" cy="184.78" r="1.45"/><circle cx="178.98" cy="186.32" r="1.45"/><circle cx="181.08" cy="187.87" r="1.45"/><circle cx="183.16" cy="189.43" r="1.45"/><circle cx="185.21" cy="191.02" r="1.45"/><circle cx="187.27" cy="192.61" r="1.45"/><circle cx="189.32" cy="194.21" r="1.45"/><circle cx="191.38" cy="195.8" r="1.45"/><circle cx="193.41" cy="197.42" r="1.45"/><circle cx="195.44" cy="199.05" r="1.45"/><circle cx="197.46" cy="200.68" r="1.45"/><circle cx="199.48" cy="202.32" r="1.45"/><circle cx="201.51" cy="203.95" r="1.45"/><circle cx="203.53" cy="205.58" r="1.45"/><circle cx="205.53" cy="207.24" r="1.45"/><circle cx="207.53" cy="208.91" r="1.45"/><circle cx="209.53" cy="210.57" r="1.45"/><circle cx="211.53" cy="212.24" r="1.45"/><circle cx="213.52" cy="213.9" r="1.45"/><circle cx="215.5" cy="215.59" r="1.45"/><circle cx="217.46" cy="217.29" r="1.45"/><circle cx="219.42" cy="219" r="1.45"/><circle cx="221.39" cy="220.71" r="1.45"/><circle cx="223.35" cy="222.41" r="1.45"/><circle cx="225.28" cy="224.15" r="1.45"/><circle cx="227.2" cy="225.91" r="1.45"/><circle cx="229.11" cy="227.67" r="1.45"/><circle cx="231.03" cy="229.43" r="1.45"/><circle cx="232.94" cy="231.19" r="1.45"/><circle cx="234.86" cy="232.94" r="1.45"/><circle cx="236.71" cy="234.77" r="1.45"/><circle cx="238.56" cy="236.59" r="1.45"/><circle cx="240.41" cy="238.42" r="1.45"/><circle cx="242.26" cy="240.25" r="1.45"/><circle cx="244.11" cy="242.08" r="1.45"/><circle cx="245.95" cy="243.91" r="1.45"/><circle cx="247.72" cy="245.82" r="1.45"/><circle cx="249.48" cy="247.73" r="1.45"/><circle cx="251.25" cy="249.63" r="1.45"/><circle cx="253.02" cy="251.54" r="1.45"/><circle cx="254.78" cy="253.45" r="1.45"/><circle cx="256.5" cy="255.4" r="1.45"/><circle cx="258.22" cy="257.35" r="1.45"/><circle cx="259.94" cy="259.3" r="1.45"/><circle cx="261.65" cy="261.26" r="1.45"/><circle cx="263.1" cy="262.9" r="1.45"/></g><circle cx="82.8" cy="163.6" r="1.7" fill="#e01010"/><circle cx="82.1" cy="126.5" r="1.7" fill="#2020d0"/><text x="78.2" y="123.6" font-size="7.2" fill="#2e2e2e" text-anchor="start" font-weight="normal" font-family='"Liberation Sans", sans-serif' stroke="#2e2e2e" stroke-width="0.2">3,5</text><text x="78.2" y="164.4" font-size="7.2" fill="#2e2e2e" text-anchor="start" font-weight="normal" font-family='"Liberation Sans", sans-serif' stroke="#2e2e2e" stroke-width="0.2">2,3</text><polyline points="46.2,187 127.21,187 127.21,178.95 154.93,178.95 154.93,236.42 204.79,236.42 204.79,248.05 264.99,248.05 264.99,238.05 273.68,238.05 273.68,222.86 309.2,222.86" fill="none" stroke="#e40000" stroke-width="2.2" stroke-linejoin="miter"/><rect x="125.91" y="177.65" width="2.6" height="2.6" fill="#8e7a66" opacity="0.85"/><rect x="153.63" y="235.12" width="2.6" height="2.6" fill="#8e7a66" opacity="0.85"/><rect x="203.49" y="246.75" width="2.6" height="2.6" fill="#8e7a66" opacity="0.85"/><rect x="263.69" y="236.75" width="2.6" height="2.6" fill="#8e7a66" opacity="0.85"/><rect x="272.38" y="221.56" width="2.6" height="2.6" fill="#8e7a66" opacity="0.85"/><rect x="89.6" y="360.4" width="209.4" height="10.4" fill="#fafafa"/><rect x="89.6" y="370.6" width="209.4" height="8.6" fill="#f1f1f1"/><line x1="89.6" y1="360.4" x2="299" y2="360.4" stroke="#e2e2e2" stroke-width="1.2"/><line x1="105.2" y1="361" x2="105.2" y2="379" stroke="#cfcfcf" stroke-width="1"/><line x1="158.8" y1="361" x2="158.8" y2="379" stroke="#cfcfcf" stroke-width="1"/><line x1="238" y1="361" x2="238" y2="379" stroke="#cfcfcf" stroke-width="1"/><line x1="298.6" y1="361" x2="298.6" y2="379" stroke="#c4c4c4" stroke-width="1.2"/><line x1="89.6" y1="379.9" x2="299" y2="379.9" stroke="#9c9c9c" stroke-width="1.6"/><text x="97.6" y="372.3" font-size="7.8" fill="#1a1a1a" text-anchor="middle" font-weight="bold" font-family='"Liberation Sans", sans-serif' >N</text><text x="131.8" y="371.8" font-size="9" fill="#1a1a1a" text-anchor="middle" font-weight="bold" font-family='"Liberation Sans", sans-serif' >ρ</text><text x="198.7" y="372.6" font-size="9.2" fill="#1a1a1a" text-anchor="middle" font-weight="bold" font-family='"Liberation Sans", sans-serif' >h</text><text x="268.4" y="372.6" font-size="9.2" fill="#1a1a1a" text-anchor="middle" font-weight="bold" font-family='"Liberation Sans", sans-serif' >z</text><rect x="89.6" y="380.4" width="15.4" height="18" fill="#f2f2f2"/><line x1="89.6" y1="397.8" x2="105" y2="397.8" stroke="#b4b4b4" stroke-width="1.5"/><line x1="105" y1="380.4" x2="105" y2="398.4" stroke="#d0d0d0" stroke-width="1"/><text x="97.5" y="391" font-size="9.4" fill="#1a1a1a" text-anchor="middle" font-weight="bold" font-family='"Liberation Sans", sans-serif' >1</text><rect x="106.6" y="381.4" width="50.8" height="15.9" fill="#fff" stroke="#e05a5a" stroke-width="1.2"/><text x="132" y="392.2" font-size="9.1" fill="#2a2a2a" text-anchor="middle" font-weight="normal" font-family='"Liberation Sans", sans-serif' stroke="#2a2a2a" stroke-width="0.15">120.71</text><rect x="160.6" y="381.4" width="76.2" height="15.9" fill="#fff" stroke="#3c3c3c" stroke-width="1.2"/><text x="198.7" y="392.2" font-size="9.1" fill="#2a2a2a" text-anchor="middle" font-weight="normal" font-family='"Liberation Sans", sans-serif' stroke="#2a2a2a" stroke-width="0.15">37.50</text><rect x="239" y="381.4" width="59.4" height="15.9" fill="#fff" stroke="#3c3c3c" stroke-width="1.2"/><text x="268.7" y="392.2" font-size="9.1" fill="#2a2a2a" text-anchor="middle" font-weight="normal" font-family='"Liberation Sans", sans-serif' stroke="#2a2a2a" stroke-width="0.15">0/0</text><rect x="89.6" y="398.4" width="15.4" height="18" fill="#f2f2f2"/><line x1="89.6" y1="415.8" x2="105" y2="415.8" stroke="#b4b4b4" stroke-width="1.5"/><line x1="105" y1="398.4" x2="105" y2="416.4" stroke="#d0d0d0" stroke-width="1"/><text x="97.5" y="409" font-size="9.4" fill="#1a1a1a" text-anchor="middle" font-weight="bold" font-family='"Liberation Sans", sans-serif' >2</text><rect x="106.6" y="399.4" width="50.8" height="15.9" fill="#fff" stroke="#3c3c3c" stroke-width="1.2"/><text x="132" y="410.2" font-size="9.1" fill="#2a2a2a" text-anchor="middle" font-weight="normal" font-family='"Liberation Sans", sans-serif' stroke="#2a2a2a" stroke-width="0.15">184.10</text><rect x="160.6" y="399.4" width="76.2" height="15.9" fill="#fff" stroke="#3c3c3c" stroke-width="1.2"/><text x="198.7" y="410.2" font-size="9.1" fill="#2a2a2a" text-anchor="middle" font-weight="normal" font-family='"Liberation Sans", sans-serif' stroke="#2a2a2a" stroke-width="0.15">26.82</text><rect x="239" y="399.4" width="59.4" height="15.9" fill="#fff" stroke="#3c3c3c" stroke-width="1.2"/><text x="268.7" y="410.2" font-size="9.1" fill="#2a2a2a" text-anchor="middle" font-weight="normal" font-family='"Liberation Sans", sans-serif' stroke="#2a2a2a" stroke-width="0.15">37.50</text><rect x="89.6" y="416.4" width="15.4" height="18" fill="#f2f2f2"/><line x1="89.6" y1="433.8" x2="105" y2="433.8" stroke="#b4b4b4" stroke-width="1.5"/><line x1="105" y1="416.4" x2="105" y2="434.4" stroke="#d0d0d0" stroke-width="1"/><text x="97.5" y="427" font-size="9.4" fill="#1a1a1a" text-anchor="middle" font-weight="bold" font-family='"Liberation Sans", sans-serif' >3</text><rect x="106.6" y="417.4" width="50.8" height="15.9" fill="#fff" stroke="#3c3c3c" stroke-width="1.2"/><text x="132" y="428.2" font-size="9.1" fill="#2a2a2a" text-anchor="middle" font-weight="normal" font-family='"Liberation Sans", sans-serif' stroke="#2a2a2a" stroke-width="0.15">9.05</text><rect x="160.6" y="417.4" width="76.2" height="15.9" fill="#fff" stroke="#3c3c3c" stroke-width="1.2"/><text x="198.7" y="428.2" font-size="9.1" fill="#2a2a2a" text-anchor="middle" font-weight="normal" font-family='"Liberation Sans", sans-serif' stroke="#2a2a2a" stroke-width="0.15">105.45</text><rect x="239" y="417.4" width="59.4" height="15.9" fill="#fff" stroke="#3c3c3c" stroke-width="1.2"/><text x="268.7" y="428.2" font-size="9.1" fill="#2a2a2a" text-anchor="middle" font-weight="normal" font-family='"Liberation Sans", sans-serif' stroke="#2a2a2a" stroke-width="0.15">64.32</text><rect x="89.6" y="434.4" width="15.4" height="18" fill="#f2f2f2"/><line x1="89.6" y1="451.8" x2="105" y2="451.8" stroke="#b4b4b4" stroke-width="1.5"/><line x1="105" y1="434.4" x2="105" y2="452.4" stroke="#d0d0d0" stroke-width="1"/><text x="97.5" y="445" font-size="9.4" fill="#1a1a1a" text-anchor="middle" font-weight="bold" font-family='"Liberation Sans", sans-serif' >4</text><rect x="106.6" y="435.4" width="50.8" height="15.9" fill="#fff" stroke="#3c3c3c" stroke-width="1.2"/><text x="132" y="446.2" font-size="9.1" fill="#2a2a2a" text-anchor="middle" font-weight="normal" font-family='"Liberation Sans", sans-serif' stroke="#2a2a2a" stroke-width="0.15">4.92</text><rect x="160.6" y="435.4" width="76.2" height="15.9" fill="#fff" stroke="#3c3c3c" stroke-width="1.2"/><text x="198.7" y="446.2" font-size="9.1" fill="#2a2a2a" text-anchor="middle" font-weight="normal" font-family='"Liberation Sans", sans-serif' stroke="#2a2a2a" stroke-width="0.15">378.17</text><rect x="239" y="435.4" width="59.4" height="15.9" fill="#fff" stroke="#3c3c3c" stroke-width="1.2"/><text x="268.7" y="446.2" font-size="9.1" fill="#2a2a2a" text-anchor="middle" font-weight="normal" font-family='"Liberation Sans", sans-serif' stroke="#2a2a2a" stroke-width="0.15">169.77</text><rect x="89.6" y="452.4" width="15.4" height="18" fill="#f2f2f2"/><line x1="89.6" y1="469.8" x2="105" y2="469.8" stroke="#b4b4b4" stroke-width="1.5"/><line x1="105" y1="452.4" x2="105" y2="470.4" stroke="#d0d0d0" stroke-width="1"/><text x="97.5" y="463" font-size="9.4" fill="#1a1a1a" text-anchor="middle" font-weight="bold" font-family='"Liberation Sans", sans-serif' >5</text><rect x="106.6" y="453.4" width="50.8" height="15.9" fill="#fff" stroke="#3c3c3c" stroke-width="1.2"/><text x="132" y="464.2" font-size="9.1" fill="#2a2a2a" text-anchor="middle" font-weight="normal" font-family='"Liberation Sans", sans-serif' stroke="#2a2a2a" stroke-width="0.15">8.31</text><rect x="160.6" y="453.4" width="76.2" height="15.9" fill="#fff" stroke="#3c3c3c" stroke-width="1.2"/><text x="198.7" y="464.2" font-size="9.1" fill="#2a2a2a" text-anchor="middle" font-weight="normal" font-family='"Liberation Sans", sans-serif' stroke="#2a2a2a" stroke-width="0.15">101.00</text><rect x="239" y="453.4" width="59.4" height="15.9" fill="#fff" stroke="#3c3c3c" stroke-width="1.2"/><text x="268.7" y="464.2" font-size="9.1" fill="#2a2a2a" text-anchor="middle" font-weight="normal" font-family='"Liberation Sans", sans-serif' stroke="#2a2a2a" stroke-width="0.15">547.94</text><rect x="89.6" y="470.4" width="15.4" height="18" fill="#f2f2f2"/><line x1="89.6" y1="487.8" x2="105" y2="487.8" stroke="#b4b4b4" stroke-width="1.5"/><line x1="105" y1="470.4" x2="105" y2="488.4" stroke="#d0d0d0" stroke-width="1"/><text x="97.5" y="481" font-size="9.4" fill="#1a1a1a" text-anchor="middle" font-weight="bold" font-family='"Liberation Sans", sans-serif' >6</text><rect x="106.6" y="471.4" width="50.8" height="15.9" fill="#fff" stroke="#3c3c3c" stroke-width="1.2"/><text x="132" y="482.2" font-size="9.1" fill="#2a2a2a" text-anchor="middle" font-weight="normal" font-family='"Liberation Sans", sans-serif' stroke="#2a2a2a" stroke-width="0.15">18.43</text><rect x="239" y="471.4" width="59.4" height="15.9" fill="#fff" stroke="#3c3c3c" stroke-width="1.2"/><text x="268.7" y="482.2" font-size="9.1" fill="#2a2a2a" text-anchor="middle" font-weight="normal" font-family='"Liberation Sans", sans-serif' stroke="#2a2a2a" stroke-width="0.15">648.94</text><rect x="83.5" y="507" width="241.5" height="73.5" fill="#fbfbfb"/><ellipse cx="87.5" cy="543.3" rx="4.8" ry="2.9" fill="#fff" stroke="#a8a8a8" stroke-width="0.7" stroke-dasharray="1.4 1"/><ellipse cx="194.9" cy="509.9" rx="4.8" ry="2.9" fill="#fff" stroke="#a8a8a8" stroke-width="0.7" stroke-dasharray="1.4 1"/><ellipse cx="319" cy="545.5" rx="4.8" ry="2.9" fill="#fff" stroke="#a8a8a8" stroke-width="0.7" stroke-dasharray="1.4 1"/><ellipse cx="203.7" cy="577.6" rx="4.8" ry="2.9" fill="#fff" stroke="#a8a8a8" stroke-width="0.7" stroke-dasharray="1.4 1"/><rect x="116.2" y="530.6" width="24.2" height="12.6" fill="url(#pTop)" stroke="#2a2a2a" stroke-width="1.1"/><rect x="116.2" y="548.8" width="24.2" height="12.6" fill="url(#pLimeL)" stroke="#2a2a2a" stroke-width="1.1"/><rect x="215.2" y="531.0" width="23.6" height="12.0" fill="url(#pSand)" stroke="#2a2a2a" stroke-width="1.1"/><rect x="215.2" y="549.2" width="23.6" height="12.0" fill="url(#pClay)" stroke="#2a2a2a" stroke-width="1.1"/><text x="147.3" y="535.8" font-size="7.5" fill="#1e1e1e" text-anchor="start" font-weight="bold" font-family='"Liberation Serif", serif' stroke="#1e1e1e" stroke-width="0.22" textLength="24.5" lengthAdjust="spacingAndGlyphs">Top Soil</text><text x="147.3" y="543.6" font-size="7.4" fill="#1e1e1e" text-anchor="start" font-weight="bold" font-family='"Liberation Serif", serif' stroke="#1e1e1e" stroke-width="0.22" textLength="47.8" lengthAdjust="spacingAndGlyphs">Recent Deposits</text><text x="147.4" y="558.2" font-size="9.2" fill="#1e1e1e" text-anchor="start" font-weight="bold" font-family='"Liberation Serif", serif' stroke="#1e1e1e" stroke-width="0.22" textLength="36.4" lengthAdjust="spacingAndGlyphs">Limestone</text><text x="241.9" y="539.2" font-size="7.6" fill="#1e1e1e" text-anchor="start" font-weight="bold" font-family='"Liberation Serif", serif' stroke="#1e1e1e" stroke-width="0.22" textLength="45.9" lengthAdjust="spacingAndGlyphs">Saturated sand</text><text x="241.9" y="557.9" font-size="7.4" fill="#1e1e1e" text-anchor="start" font-weight="bold" font-family='"Liberation Serif", serif' stroke="#1e1e1e" stroke-width="0.22" textLength="58.8" lengthAdjust="spacingAndGlyphs">Clay and mudstone</text><g style="filter:url(#sh)"><text x="519.7" y="16.4" font-family='"Liberation Serif", serif' font-weight="bold" fill="#7412ee" font-size="15">TEM</text><rect x="554.7" y="12.0" width="4.6" height="2.0" fill="#7412ee"/><text x="560.4" y="15.0" font-family='"Liberation Sans", sans-serif' font-weight="bold" fill="#7412ee" font-size="13" textLength="13.8" lengthAdjust="spacingAndGlyphs">13</text></g><rect x="434.6" y="41.9" width="229.8" height="548.4" fill="#fff" stroke="#404040" stroke-width="1.3"/><line x1="435.2" y1="41.9" x2="663.8" y2="41.9" stroke="#767676" stroke-width="1.7"/><rect x="448.2" y="43.8" width="30.6" height="4.8" fill="url(#pTop)"/><rect x="448.2" y="48.6" width="30.6" height="17.4" fill="url(#pLime)"/><rect x="448.2" y="66" width="30.6" height="46.3" fill="url(#pSand)"/><rect x="448.2" y="112.3" width="30.6" height="5" fill="url(#pSand)"/><rect x="448.2" y="117.3" width="30.6" height="48.1" fill="url(#pSand)"/><rect x="448.2" y="165.4" width="30.6" height="2.8" fill="url(#pSand)"/><rect x="448.2" y="168.2" width="30.6" height="15.8" fill="url(#pSand)"/><rect x="448.2" y="184" width="30.6" height="3.4" fill="url(#pSand)"/><line x1="448.2" y1="112.3" x2="478.8" y2="112.3" stroke="#1e1e1e" stroke-width="1"/><line x1="449.4" y1="114.6" x2="478.8" y2="114.6" stroke="#1e1e1e" stroke-width="1.1" stroke-dasharray="2 2.4"/><line x1="448.2" y1="117.3" x2="478.8" y2="117.3" stroke="#1e1e1e" stroke-width="1.4" stroke-dasharray="2.4 1.6"/><line x1="448.2" y1="165.4" x2="478.8" y2="165.4" stroke="#1e1e1e" stroke-width="1"/><line x1="448.2" y1="168.2" x2="478.8" y2="168.2" stroke="#1e1e1e" stroke-width="1.3" stroke-dasharray="2.4 1.6"/><line x1="448.2" y1="184" x2="478.8" y2="184" stroke="#1e1e1e" stroke-width="1.4" stroke-dasharray="2.4 1.6"/><line x1="449.8" y1="185.8" x2="478.8" y2="185.8" stroke="#3a4a10" stroke-width="0.8" stroke-dasharray="1.6 2.6"/><rect x="448.2" y="43.8" width="30.6" height="143.6" fill="none" stroke="#2a2a2a" stroke-width="0.9"/><line x1="438.31" y1="40.1" x2="438.31" y2="41.9" stroke="#888" stroke-width="0.8"/><line x1="438.31" y1="590.3" x2="438.31" y2="592.1" stroke="#888" stroke-width="0.8"/><line x1="441.6" y1="38.7" x2="441.6" y2="41.9" stroke="#555" stroke-width="1"/><line x1="441.6" y1="590.3" x2="441.6" y2="593.5" stroke="#555" stroke-width="1"/><line x1="463.26" y1="40.1" x2="463.26" y2="41.9" stroke="#888" stroke-width="0.8"/><line x1="463.26" y1="590.3" x2="463.26" y2="592.1" stroke="#888" stroke-width="0.8"/><line x1="475.93" y1="40.1" x2="475.93" y2="41.9" stroke="#888" stroke-width="0.8"/><line x1="475.93" y1="590.3" x2="475.93" y2="592.1" stroke="#888" stroke-width="0.8"/><line x1="484.92" y1="40.1" x2="484.92" y2="41.9" stroke="#888" stroke-width="0.8"/><line x1="484.92" y1="590.3" x2="484.92" y2="592.1" stroke="#888" stroke-width="0.8"/><line x1="491.89" y1="40.1" x2="491.89" y2="41.9" stroke="#888" stroke-width="0.8"/><line x1="491.89" y1="590.3" x2="491.89" y2="592.1" stroke="#888" stroke-width="0.8"/><line x1="497.59" y1="40.1" x2="497.59" y2="41.9" stroke="#888" stroke-width="0.8"/><line x1="497.59" y1="590.3" x2="497.59" y2="592.1" stroke="#888" stroke-width="0.8"/><line x1="502.4" y1="40.1" x2="502.4" y2="41.9" stroke="#888" stroke-width="0.8"/><line x1="502.4" y1="590.3" x2="502.4" y2="592.1" stroke="#888" stroke-width="0.8"/><line x1="506.58" y1="40.1" x2="506.58" y2="41.9" stroke="#888" stroke-width="0.8"/><line x1="506.58" y1="590.3" x2="506.58" y2="592.1" stroke="#888" stroke-width="0.8"/><line x1="510.26" y1="40.1" x2="510.26" y2="41.9" stroke="#888" stroke-width="0.8"/><line x1="510.26" y1="590.3" x2="510.26" y2="592.1" stroke="#888" stroke-width="0.8"/><line x1="513.55" y1="38.7" x2="513.55" y2="41.9" stroke="#555" stroke-width="1"/><line x1="513.55" y1="590.3" x2="513.55" y2="593.5" stroke="#555" stroke-width="1"/><line x1="535.21" y1="40.1" x2="535.21" y2="41.9" stroke="#888" stroke-width="0.8"/><line x1="535.21" y1="590.3" x2="535.21" y2="592.1" stroke="#888" stroke-width="0.8"/><line x1="547.88" y1="40.1" x2="547.88" y2="41.9" stroke="#888" stroke-width="0.8"/><line x1="547.88" y1="590.3" x2="547.88" y2="592.1" stroke="#888" stroke-width="0.8"/><line x1="556.87" y1="40.1" x2="556.87" y2="41.9" stroke="#888" stroke-width="0.8"/><line x1="556.87" y1="590.3" x2="556.87" y2="592.1" stroke="#888" stroke-width="0.8"/><line x1="563.84" y1="40.1" x2="563.84" y2="41.9" stroke="#888" stroke-width="0.8"/><line x1="563.84" y1="590.3" x2="563.84" y2="592.1" stroke="#888" stroke-width="0.8"/><line x1="569.54" y1="40.1" x2="569.54" y2="41.9" stroke="#888" stroke-width="0.8"/><line x1="569.54" y1="590.3" x2="569.54" y2="592.1" stroke="#888" stroke-width="0.8"/><line x1="574.35" y1="40.1" x2="574.35" y2="41.9" stroke="#888" stroke-width="0.8"/><line x1="574.35" y1="590.3" x2="574.35" y2="592.1" stroke="#888" stroke-width="0.8"/><line x1="578.53" y1="40.1" x2="578.53" y2="41.9" stroke="#888" stroke-width="0.8"/><line x1="578.53" y1="590.3" x2="578.53" y2="592.1" stroke="#888" stroke-width="0.8"/><line x1="582.21" y1="40.1" x2="582.21" y2="41.9" stroke="#888" stroke-width="0.8"/><line x1="582.21" y1="590.3" x2="582.21" y2="592.1" stroke="#888" stroke-width="0.8"/><line x1="585.5" y1="38.7" x2="585.5" y2="41.9" stroke="#555" stroke-width="1"/><line x1="585.5" y1="590.3" x2="585.5" y2="593.5" stroke="#555" stroke-width="1"/><line x1="607.16" y1="40.1" x2="607.16" y2="41.9" stroke="#888" stroke-width="0.8"/><line x1="607.16" y1="590.3" x2="607.16" y2="592.1" stroke="#888" stroke-width="0.8"/><line x1="619.83" y1="40.1" x2="619.83" y2="41.9" stroke="#888" stroke-width="0.8"/><line x1="619.83" y1="590.3" x2="619.83" y2="592.1" stroke="#888" stroke-width="0.8"/><line x1="628.82" y1="40.1" x2="628.82" y2="41.9" stroke="#888" stroke-width="0.8"/><line x1="628.82" y1="590.3" x2="628.82" y2="592.1" stroke="#888" stroke-width="0.8"/><line x1="635.79" y1="40.1" x2="635.79" y2="41.9" stroke="#888" stroke-width="0.8"/><line x1="635.79" y1="590.3" x2="635.79" y2="592.1" stroke="#888" stroke-width="0.8"/><line x1="641.49" y1="40.1" x2="641.49" y2="41.9" stroke="#888" stroke-width="0.8"/><line x1="641.49" y1="590.3" x2="641.49" y2="592.1" stroke="#888" stroke-width="0.8"/><line x1="646.3" y1="40.1" x2="646.3" y2="41.9" stroke="#888" stroke-width="0.8"/><line x1="646.3" y1="590.3" x2="646.3" y2="592.1" stroke="#888" stroke-width="0.8"/><line x1="650.48" y1="40.1" x2="650.48" y2="41.9" stroke="#888" stroke-width="0.8"/><line x1="650.48" y1="590.3" x2="650.48" y2="592.1" stroke="#888" stroke-width="0.8"/><line x1="654.16" y1="40.1" x2="654.16" y2="41.9" stroke="#888" stroke-width="0.8"/><line x1="654.16" y1="590.3" x2="654.16" y2="592.1" stroke="#888" stroke-width="0.8"/><line x1="657.45" y1="38.7" x2="657.45" y2="41.9" stroke="#555" stroke-width="1"/><line x1="657.45" y1="590.3" x2="657.45" y2="593.5" stroke="#555" stroke-width="1"/><text x="434.1" y="36.8" font-size="7.6" fill="#3c3c3c" stroke="#3c3c3c" stroke-width="0.3" font-family='"Liberation Sans", sans-serif' textLength="7.2" lengthAdjust="spacingAndGlyphs">10</text><text x="440.6" y="32" font-size="5.8" fill="#3c3c3c" stroke="#3c3c3c" stroke-width="0.2" font-family='"Liberation Sans", sans-serif' >0</text><text x="435" y="601.9" font-size="7.6" fill="#3c3c3c" stroke="#3c3c3c" stroke-width="0.3" font-family='"Liberation Sans", sans-serif' textLength="7.2" lengthAdjust="spacingAndGlyphs">10</text><text x="440.7" y="597" font-size="5.8" fill="#3c3c3c" stroke="#3c3c3c" stroke-width="0.2" font-family='"Liberation Sans", sans-serif' >0</text><text x="506.05" y="36.8" font-size="7.6" fill="#3c3c3c" stroke="#3c3c3c" stroke-width="0.3" font-family='"Liberation Sans", sans-serif' textLength="7.2" lengthAdjust="spacingAndGlyphs">10</text><text x="512.55" y="32" font-size="5.8" fill="#3c3c3c" stroke="#3c3c3c" stroke-width="0.2" font-family='"Liberation Sans", sans-serif' >1</text><text x="506.95" y="601.9" font-size="7.6" fill="#3c3c3c" stroke="#3c3c3c" stroke-width="0.3" font-family='"Liberation Sans", sans-serif' textLength="7.2" lengthAdjust="spacingAndGlyphs">10</text><text x="512.65" y="597" font-size="5.8" fill="#3c3c3c" stroke="#3c3c3c" stroke-width="0.2" font-family='"Liberation Sans", sans-serif' >1</text><text x="578" y="36.8" font-size="7.6" fill="#3c3c3c" stroke="#3c3c3c" stroke-width="0.3" font-family='"Liberation Sans", sans-serif' textLength="7.2" lengthAdjust="spacingAndGlyphs">10</text><text x="584.5" y="32" font-size="5.8" fill="#3c3c3c" stroke="#3c3c3c" stroke-width="0.2" font-family='"Liberation Sans", sans-serif' >2</text><text x="578.9" y="601.9" font-size="7.6" fill="#3c3c3c" stroke="#3c3c3c" stroke-width="0.3" font-family='"Liberation Sans", sans-serif' textLength="7.2" lengthAdjust="spacingAndGlyphs">10</text><text x="584.6" y="597" font-size="5.8" fill="#3c3c3c" stroke="#3c3c3c" stroke-width="0.2" font-family='"Liberation Sans", sans-serif' >2</text><text x="649.95" y="36.8" font-size="7.6" fill="#3c3c3c" stroke="#3c3c3c" stroke-width="0.3" font-family='"Liberation Sans", sans-serif' textLength="7.2" lengthAdjust="spacingAndGlyphs">10</text><text x="656.45" y="32" font-size="5.8" fill="#3c3c3c" stroke="#3c3c3c" stroke-width="0.2" font-family='"Liberation Sans", sans-serif' >3</text><text x="650.85" y="601.9" font-size="7.6" fill="#3c3c3c" stroke="#3c3c3c" stroke-width="0.3" font-family='"Liberation Sans", sans-serif' textLength="7.2" lengthAdjust="spacingAndGlyphs">10</text><text x="656.55" y="597" font-size="5.8" fill="#3c3c3c" stroke="#3c3c3c" stroke-width="0.2" font-family='"Liberation Sans", sans-serif' >3</text><line x1="432.8" y1="45.68" x2="434.6" y2="45.68" stroke="#555" stroke-width="0.9"/><line x1="664.4" y1="45.68" x2="666.2" y2="45.68" stroke="#555" stroke-width="0.9"/><line x1="432.8" y1="49.52" x2="434.6" y2="49.52" stroke="#555" stroke-width="0.9"/><line x1="664.4" y1="49.52" x2="666.2" y2="49.52" stroke="#555" stroke-width="0.9"/><line x1="432.8" y1="53.36" x2="434.6" y2="53.36" stroke="#555" stroke-width="0.9"/><line x1="664.4" y1="53.36" x2="666.2" y2="53.36" stroke="#555" stroke-width="0.9"/><line x1="431.8" y1="57.2" x2="434.6" y2="57.2" stroke="#8a8a8a" stroke-width="1"/><line x1="664.4" y1="57.2" x2="667.2" y2="57.2" stroke="#8a8a8a" stroke-width="1"/><line x1="432.8" y1="61.04" x2="434.6" y2="61.04" stroke="#555" stroke-width="0.9"/><line x1="664.4" y1="61.04" x2="666.2" y2="61.04" stroke="#555" stroke-width="0.9"/><line x1="432.8" y1="64.87" x2="434.6" y2="64.87" stroke="#555" stroke-width="0.9"/><line x1="664.4" y1="64.87" x2="666.2" y2="64.87" stroke="#555" stroke-width="0.9"/><line x1="432.8" y1="68.71" x2="434.6" y2="68.71" stroke="#555" stroke-width="0.9"/><line x1="664.4" y1="68.71" x2="666.2" y2="68.71" stroke="#555" stroke-width="0.9"/><line x1="431.8" y1="72.55" x2="434.6" y2="72.55" stroke="#8a8a8a" stroke-width="1"/><line x1="664.4" y1="72.55" x2="667.2" y2="72.55" stroke="#8a8a8a" stroke-width="1"/><line x1="432.8" y1="76.39" x2="434.6" y2="76.39" stroke="#555" stroke-width="0.9"/><line x1="664.4" y1="76.39" x2="666.2" y2="76.39" stroke="#555" stroke-width="0.9"/><line x1="432.8" y1="80.23" x2="434.6" y2="80.23" stroke="#555" stroke-width="0.9"/><line x1="664.4" y1="80.23" x2="666.2" y2="80.23" stroke="#555" stroke-width="0.9"/><line x1="432.8" y1="84.07" x2="434.6" y2="84.07" stroke="#555" stroke-width="0.9"/><line x1="664.4" y1="84.07" x2="666.2" y2="84.07" stroke="#555" stroke-width="0.9"/><line x1="431.8" y1="87.91" x2="434.6" y2="87.91" stroke="#8a8a8a" stroke-width="1"/><line x1="664.4" y1="87.91" x2="667.2" y2="87.91" stroke="#8a8a8a" stroke-width="1"/><line x1="432.8" y1="91.75" x2="434.6" y2="91.75" stroke="#555" stroke-width="0.9"/><line x1="664.4" y1="91.75" x2="666.2" y2="91.75" stroke="#555" stroke-width="0.9"/><line x1="432.8" y1="95.59" x2="434.6" y2="95.59" stroke="#555" stroke-width="0.9"/><line x1="664.4" y1="95.59" x2="666.2" y2="95.59" stroke="#555" stroke-width="0.9"/><line x1="432.8" y1="99.43" x2="434.6" y2="99.43" stroke="#555" stroke-width="0.9"/><line x1="664.4" y1="99.43" x2="666.2" y2="99.43" stroke="#555" stroke-width="0.9"/><line x1="431.8" y1="103.26" x2="434.6" y2="103.26" stroke="#8a8a8a" stroke-width="1"/><line x1="664.4" y1="103.26" x2="667.2" y2="103.26" stroke="#8a8a8a" stroke-width="1"/><line x1="432.8" y1="107.1" x2="434.6" y2="107.1" stroke="#555" stroke-width="0.9"/><line x1="664.4" y1="107.1" x2="666.2" y2="107.1" stroke="#555" stroke-width="0.9"/><line x1="432.8" y1="110.94" x2="434.6" y2="110.94" stroke="#555" stroke-width="0.9"/><line x1="664.4" y1="110.94" x2="666.2" y2="110.94" stroke="#555" stroke-width="0.9"/><line x1="432.8" y1="114.78" x2="434.6" y2="114.78" stroke="#555" stroke-width="0.9"/><line x1="664.4" y1="114.78" x2="666.2" y2="114.78" stroke="#555" stroke-width="0.9"/><line x1="431.8" y1="118.62" x2="434.6" y2="118.62" stroke="#8a8a8a" stroke-width="1"/><line x1="664.4" y1="118.62" x2="667.2" y2="118.62" stroke="#8a8a8a" stroke-width="1"/><line x1="432.8" y1="122.46" x2="434.6" y2="122.46" stroke="#555" stroke-width="0.9"/><line x1="664.4" y1="122.46" x2="666.2" y2="122.46" stroke="#555" stroke-width="0.9"/><line x1="432.8" y1="126.3" x2="434.6" y2="126.3" stroke="#555" stroke-width="0.9"/><line x1="664.4" y1="126.3" x2="666.2" y2="126.3" stroke="#555" stroke-width="0.9"/><line x1="432.8" y1="130.14" x2="434.6" y2="130.14" stroke="#555" stroke-width="0.9"/><line x1="664.4" y1="130.14" x2="666.2" y2="130.14" stroke="#555" stroke-width="0.9"/><line x1="431.8" y1="133.98" x2="434.6" y2="133.98" stroke="#8a8a8a" stroke-width="1"/><line x1="664.4" y1="133.98" x2="667.2" y2="133.98" stroke="#8a8a8a" stroke-width="1"/><line x1="432.8" y1="137.81" x2="434.6" y2="137.81" stroke="#555" stroke-width="0.9"/><line x1="664.4" y1="137.81" x2="666.2" y2="137.81" stroke="#555" stroke-width="0.9"/><line x1="432.8" y1="141.65" x2="434.6" y2="141.65" stroke="#555" stroke-width="0.9"/><line x1="664.4" y1="141.65" x2="666.2" y2="141.65" stroke="#555" stroke-width="0.9"/><line x1="432.8" y1="145.49" x2="434.6" y2="145.49" stroke="#555" stroke-width="0.9"/><line x1="664.4" y1="145.49" x2="666.2" y2="145.49" stroke="#555" stroke-width="0.9"/><line x1="431.8" y1="149.33" x2="434.6" y2="149.33" stroke="#8a8a8a" stroke-width="1"/><line x1="664.4" y1="149.33" x2="667.2" y2="149.33" stroke="#8a8a8a" stroke-width="1"/><line x1="432.8" y1="153.17" x2="434.6" y2="153.17" stroke="#555" stroke-width="0.9"/><line x1="664.4" y1="153.17" x2="666.2" y2="153.17" stroke="#555" stroke-width="0.9"/><line x1="432.8" y1="157.01" x2="434.6" y2="157.01" stroke="#555" stroke-width="0.9"/><line x1="664.4" y1="157.01" x2="666.2" y2="157.01" stroke="#555" stroke-width="0.9"/><line x1="432.8" y1="160.85" x2="434.6" y2="160.85" stroke="#555" stroke-width="0.9"/><line x1="664.4" y1="160.85" x2="666.2" y2="160.85" stroke="#555" stroke-width="0.9"/><line x1="431.8" y1="164.69" x2="434.6" y2="164.69" stroke="#8a8a8a" stroke-width="1"/><line x1="664.4" y1="164.69" x2="667.2" y2="164.69" stroke="#8a8a8a" stroke-width="1"/><line x1="432.8" y1="168.53" x2="434.6" y2="168.53" stroke="#555" stroke-width="0.9"/><line x1="664.4" y1="168.53" x2="666.2" y2="168.53" stroke="#555" stroke-width="0.9"/><line x1="432.8" y1="172.37" x2="434.6" y2="172.37" stroke="#555" stroke-width="0.9"/><line x1="664.4" y1="172.37" x2="666.2" y2="172.37" stroke="#555" stroke-width="0.9"/><line x1="432.8" y1="176.21" x2="434.6" y2="176.21" stroke="#555" stroke-width="0.9"/><line x1="664.4" y1="176.21" x2="666.2" y2="176.21" stroke="#555" stroke-width="0.9"/><line x1="431.8" y1="180.04" x2="434.6" y2="180.04" stroke="#8a8a8a" stroke-width="1"/><line x1="664.4" y1="180.04" x2="667.2" y2="180.04" stroke="#8a8a8a" stroke-width="1"/><line x1="432.8" y1="183.88" x2="434.6" y2="183.88" stroke="#555" stroke-width="0.9"/><line x1="664.4" y1="183.88" x2="666.2" y2="183.88" stroke="#555" stroke-width="0.9"/><line x1="432.8" y1="187.72" x2="434.6" y2="187.72" stroke="#555" stroke-width="0.9"/><line x1="664.4" y1="187.72" x2="666.2" y2="187.72" stroke="#555" stroke-width="0.9"/><line x1="432.8" y1="191.56" x2="434.6" y2="191.56" stroke="#555" stroke-width="0.9"/><line x1="664.4" y1="191.56" x2="666.2" y2="191.56" stroke="#555" stroke-width="0.9"/><line x1="431.8" y1="195.4" x2="434.6" y2="195.4" stroke="#8a8a8a" stroke-width="1"/><line x1="664.4" y1="195.4" x2="667.2" y2="195.4" stroke="#8a8a8a" stroke-width="1"/><line x1="432.8" y1="199.24" x2="434.6" y2="199.24" stroke="#555" stroke-width="0.9"/><line x1="664.4" y1="199.24" x2="666.2" y2="199.24" stroke="#555" stroke-width="0.9"/><line x1="432.8" y1="203.08" x2="434.6" y2="203.08" stroke="#555" stroke-width="0.9"/><line x1="664.4" y1="203.08" x2="666.2" y2="203.08" stroke="#555" stroke-width="0.9"/><line x1="432.8" y1="206.92" x2="434.6" y2="206.92" stroke="#555" stroke-width="0.9"/><line x1="664.4" y1="206.92" x2="666.2" y2="206.92" stroke="#555" stroke-width="0.9"/><line x1="431.8" y1="210.76" x2="434.6" y2="210.76" stroke="#8a8a8a" stroke-width="1"/><line x1="664.4" y1="210.76" x2="667.2" y2="210.76" stroke="#8a8a8a" stroke-width="1"/><line x1="432.8" y1="214.59" x2="434.6" y2="214.59" stroke="#555" stroke-width="0.9"/><line x1="664.4" y1="214.59" x2="666.2" y2="214.59" stroke="#555" stroke-width="0.9"/><line x1="432.8" y1="218.43" x2="434.6" y2="218.43" stroke="#555" stroke-width="0.9"/><line x1="664.4" y1="218.43" x2="666.2" y2="218.43" stroke="#555" stroke-width="0.9"/><line x1="432.8" y1="222.27" x2="434.6" y2="222.27" stroke="#555" stroke-width="0.9"/><line x1="664.4" y1="222.27" x2="666.2" y2="222.27" stroke="#555" stroke-width="0.9"/><line x1="431.8" y1="226.11" x2="434.6" y2="226.11" stroke="#8a8a8a" stroke-width="1"/><line x1="664.4" y1="226.11" x2="667.2" y2="226.11" stroke="#8a8a8a" stroke-width="1"/><line x1="432.8" y1="229.95" x2="434.6" y2="229.95" stroke="#555" stroke-width="0.9"/><line x1="664.4" y1="229.95" x2="666.2" y2="229.95" stroke="#555" stroke-width="0.9"/><line x1="432.8" y1="233.79" x2="434.6" y2="233.79" stroke="#555" stroke-width="0.9"/><line x1="664.4" y1="233.79" x2="666.2" y2="233.79" stroke="#555" stroke-width="0.9"/><line x1="432.8" y1="237.63" x2="434.6" y2="237.63" stroke="#555" stroke-width="0.9"/><line x1="664.4" y1="237.63" x2="666.2" y2="237.63" stroke="#555" stroke-width="0.9"/><line x1="431.8" y1="241.47" x2="434.6" y2="241.47" stroke="#8a8a8a" stroke-width="1"/><line x1="664.4" y1="241.47" x2="667.2" y2="241.47" stroke="#8a8a8a" stroke-width="1"/><line x1="432.8" y1="245.31" x2="434.6" y2="245.31" stroke="#555" stroke-width="0.9"/><line x1="664.4" y1="245.31" x2="666.2" y2="245.31" stroke="#555" stroke-width="0.9"/><line x1="432.8" y1="249.15" x2="434.6" y2="249.15" stroke="#555" stroke-width="0.9"/><line x1="664.4" y1="249.15" x2="666.2" y2="249.15" stroke="#555" stroke-width="0.9"/><line x1="432.8" y1="252.99" x2="434.6" y2="252.99" stroke="#555" stroke-width="0.9"/><line x1="664.4" y1="252.99" x2="666.2" y2="252.99" stroke="#555" stroke-width="0.9"/><line x1="431.8" y1="256.82" x2="434.6" y2="256.82" stroke="#8a8a8a" stroke-width="1"/><line x1="664.4" y1="256.82" x2="667.2" y2="256.82" stroke="#8a8a8a" stroke-width="1"/><line x1="432.8" y1="260.66" x2="434.6" y2="260.66" stroke="#555" stroke-width="0.9"/><line x1="664.4" y1="260.66" x2="666.2" y2="260.66" stroke="#555" stroke-width="0.9"/><line x1="432.8" y1="264.5" x2="434.6" y2="264.5" stroke="#555" stroke-width="0.9"/><line x1="664.4" y1="264.5" x2="666.2" y2="264.5" stroke="#555" stroke-width="0.9"/><line x1="432.8" y1="268.34" x2="434.6" y2="268.34" stroke="#555" stroke-width="0.9"/><line x1="664.4" y1="268.34" x2="666.2" y2="268.34" stroke="#555" stroke-width="0.9"/><line x1="431.8" y1="272.18" x2="434.6" y2="272.18" stroke="#8a8a8a" stroke-width="1"/><line x1="664.4" y1="272.18" x2="667.2" y2="272.18" stroke="#8a8a8a" stroke-width="1"/><line x1="432.8" y1="276.02" x2="434.6" y2="276.02" stroke="#555" stroke-width="0.9"/><line x1="664.4" y1="276.02" x2="666.2" y2="276.02" stroke="#555" stroke-width="0.9"/><line x1="432.8" y1="279.86" x2="434.6" y2="279.86" stroke="#555" stroke-width="0.9"/><line x1="664.4" y1="279.86" x2="666.2" y2="279.86" stroke="#555" stroke-width="0.9"/><line x1="432.8" y1="283.7" x2="434.6" y2="283.7" stroke="#555" stroke-width="0.9"/><line x1="664.4" y1="283.7" x2="666.2" y2="283.7" stroke="#555" stroke-width="0.9"/><line x1="431.8" y1="287.54" x2="434.6" y2="287.54" stroke="#8a8a8a" stroke-width="1"/><line x1="664.4" y1="287.54" x2="667.2" y2="287.54" stroke="#8a8a8a" stroke-width="1"/><line x1="432.8" y1="291.38" x2="434.6" y2="291.38" stroke="#555" stroke-width="0.9"/><line x1="664.4" y1="291.38" x2="666.2" y2="291.38" stroke="#555" stroke-width="0.9"/><line x1="432.8" y1="295.21" x2="434.6" y2="295.21" stroke="#555" stroke-width="0.9"/><line x1="664.4" y1="295.21" x2="666.2" y2="295.21" stroke="#555" stroke-width="0.9"/><line x1="432.8" y1="299.05" x2="434.6" y2="299.05" stroke="#555" stroke-width="0.9"/><line x1="664.4" y1="299.05" x2="666.2" y2="299.05" stroke="#555" stroke-width="0.9"/><line x1="431.8" y1="302.89" x2="434.6" y2="302.89" stroke="#8a8a8a" stroke-width="1"/><line x1="664.4" y1="302.89" x2="667.2" y2="302.89" stroke="#8a8a8a" stroke-width="1"/><line x1="432.8" y1="306.73" x2="434.6" y2="306.73" stroke="#555" stroke-width="0.9"/><line x1="664.4" y1="306.73" x2="666.2" y2="306.73" stroke="#555" stroke-width="0.9"/><line x1="432.8" y1="310.57" x2="434.6" y2="310.57" stroke="#555" stroke-width="0.9"/><line x1="664.4" y1="310.57" x2="666.2" y2="310.57" stroke="#555" stroke-width="0.9"/><line x1="432.8" y1="314.41" x2="434.6" y2="314.41" stroke="#555" stroke-width="0.9"/><line x1="664.4" y1="314.41" x2="666.2" y2="314.41" stroke="#555" stroke-width="0.9"/><line x1="431.8" y1="318.25" x2="434.6" y2="318.25" stroke="#8a8a8a" stroke-width="1"/><line x1="664.4" y1="318.25" x2="667.2" y2="318.25" stroke="#8a8a8a" stroke-width="1"/><line x1="432.8" y1="322.09" x2="434.6" y2="322.09" stroke="#555" stroke-width="0.9"/><line x1="664.4" y1="322.09" x2="666.2" y2="322.09" stroke="#555" stroke-width="0.9"/><line x1="432.8" y1="325.93" x2="434.6" y2="325.93" stroke="#555" stroke-width="0.9"/><line x1="664.4" y1="325.93" x2="666.2" y2="325.93" stroke="#555" stroke-width="0.9"/><line x1="432.8" y1="329.76" x2="434.6" y2="329.76" stroke="#555" stroke-width="0.9"/><line x1="664.4" y1="329.76" x2="666.2" y2="329.76" stroke="#555" stroke-width="0.9"/><line x1="431.8" y1="333.6" x2="434.6" y2="333.6" stroke="#8a8a8a" stroke-width="1"/><line x1="664.4" y1="333.6" x2="667.2" y2="333.6" stroke="#8a8a8a" stroke-width="1"/><line x1="432.8" y1="337.44" x2="434.6" y2="337.44" stroke="#555" stroke-width="0.9"/><line x1="664.4" y1="337.44" x2="666.2" y2="337.44" stroke="#555" stroke-width="0.9"/><line x1="432.8" y1="341.28" x2="434.6" y2="341.28" stroke="#555" stroke-width="0.9"/><line x1="664.4" y1="341.28" x2="666.2" y2="341.28" stroke="#555" stroke-width="0.9"/><line x1="432.8" y1="345.12" x2="434.6" y2="345.12" stroke="#555" stroke-width="0.9"/><line x1="664.4" y1="345.12" x2="666.2" y2="345.12" stroke="#555" stroke-width="0.9"/><line x1="431.8" y1="348.96" x2="434.6" y2="348.96" stroke="#8a8a8a" stroke-width="1"/><line x1="664.4" y1="348.96" x2="667.2" y2="348.96" stroke="#8a8a8a" stroke-width="1"/><line x1="432.8" y1="352.8" x2="434.6" y2="352.8" stroke="#555" stroke-width="0.9"/><line x1="664.4" y1="352.8" x2="666.2" y2="352.8" stroke="#555" stroke-width="0.9"/><line x1="432.8" y1="356.64" x2="434.6" y2="356.64" stroke="#555" stroke-width="0.9"/><line x1="664.4" y1="356.64" x2="666.2" y2="356.64" stroke="#555" stroke-width="0.9"/><line x1="432.8" y1="360.48" x2="434.6" y2="360.48" stroke="#555" stroke-width="0.9"/><line x1="664.4" y1="360.48" x2="666.2" y2="360.48" stroke="#555" stroke-width="0.9"/><line x1="431.8" y1="364.32" x2="434.6" y2="364.32" stroke="#8a8a8a" stroke-width="1"/><line x1="664.4" y1="364.32" x2="667.2" y2="364.32" stroke="#8a8a8a" stroke-width="1"/><line x1="432.8" y1="368.15" x2="434.6" y2="368.15" stroke="#555" stroke-width="0.9"/><line x1="664.4" y1="368.15" x2="666.2" y2="368.15" stroke="#555" stroke-width="0.9"/><line x1="432.8" y1="371.99" x2="434.6" y2="371.99" stroke="#555" stroke-width="0.9"/><line x1="664.4" y1="371.99" x2="666.2" y2="371.99" stroke="#555" stroke-width="0.9"/><line x1="432.8" y1="375.83" x2="434.6" y2="375.83" stroke="#555" stroke-width="0.9"/><line x1="664.4" y1="375.83" x2="666.2" y2="375.83" stroke="#555" stroke-width="0.9"/><line x1="431.8" y1="379.67" x2="434.6" y2="379.67" stroke="#8a8a8a" stroke-width="1"/><line x1="664.4" y1="379.67" x2="667.2" y2="379.67" stroke="#8a8a8a" stroke-width="1"/><line x1="432.8" y1="383.51" x2="434.6" y2="383.51" stroke="#555" stroke-width="0.9"/><line x1="664.4" y1="383.51" x2="666.2" y2="383.51" stroke="#555" stroke-width="0.9"/><line x1="432.8" y1="387.35" x2="434.6" y2="387.35" stroke="#555" stroke-width="0.9"/><line x1="664.4" y1="387.35" x2="666.2" y2="387.35" stroke="#555" stroke-width="0.9"/><line x1="432.8" y1="391.19" x2="434.6" y2="391.19" stroke="#555" stroke-width="0.9"/><line x1="664.4" y1="391.19" x2="666.2" y2="391.19" stroke="#555" stroke-width="0.9"/><line x1="431.8" y1="395.03" x2="434.6" y2="395.03" stroke="#8a8a8a" stroke-width="1"/><line x1="664.4" y1="395.03" x2="667.2" y2="395.03" stroke="#8a8a8a" stroke-width="1"/><line x1="432.8" y1="398.87" x2="434.6" y2="398.87" stroke="#555" stroke-width="0.9"/><line x1="664.4" y1="398.87" x2="666.2" y2="398.87" stroke="#555" stroke-width="0.9"/><line x1="432.8" y1="402.71" x2="434.6" y2="402.71" stroke="#555" stroke-width="0.9"/><line x1="664.4" y1="402.71" x2="666.2" y2="402.71" stroke="#555" stroke-width="0.9"/><line x1="432.8" y1="406.55" x2="434.6" y2="406.55" stroke="#555" stroke-width="0.9"/><line x1="664.4" y1="406.55" x2="666.2" y2="406.55" stroke="#555" stroke-width="0.9"/><line x1="431.8" y1="410.38" x2="434.6" y2="410.38" stroke="#8a8a8a" stroke-width="1"/><line x1="664.4" y1="410.38" x2="667.2" y2="410.38" stroke="#8a8a8a" stroke-width="1"/><line x1="432.8" y1="414.22" x2="434.6" y2="414.22" stroke="#555" stroke-width="0.9"/><line x1="664.4" y1="414.22" x2="666.2" y2="414.22" stroke="#555" stroke-width="0.9"/><line x1="432.8" y1="418.06" x2="434.6" y2="418.06" stroke="#555" stroke-width="0.9"/><line x1="664.4" y1="418.06" x2="666.2" y2="418.06" stroke="#555" stroke-width="0.9"/><line x1="432.8" y1="421.9" x2="434.6" y2="421.9" stroke="#555" stroke-width="0.9"/><line x1="664.4" y1="421.9" x2="666.2" y2="421.9" stroke="#555" stroke-width="0.9"/><line x1="431.8" y1="425.74" x2="434.6" y2="425.74" stroke="#8a8a8a" stroke-width="1"/><line x1="664.4" y1="425.74" x2="667.2" y2="425.74" stroke="#8a8a8a" stroke-width="1"/><line x1="432.8" y1="429.58" x2="434.6" y2="429.58" stroke="#555" stroke-width="0.9"/><line x1="664.4" y1="429.58" x2="666.2" y2="429.58" stroke="#555" stroke-width="0.9"/><line x1="432.8" y1="433.42" x2="434.6" y2="433.42" stroke="#555" stroke-width="0.9"/><line x1="664.4" y1="433.42" x2="666.2" y2="433.42" stroke="#555" stroke-width="0.9"/><line x1="432.8" y1="437.26" x2="434.6" y2="437.26" stroke="#555" stroke-width="0.9"/><line x1="664.4" y1="437.26" x2="666.2" y2="437.26" stroke="#555" stroke-width="0.9"/><line x1="431.8" y1="441.1" x2="434.6" y2="441.1" stroke="#8a8a8a" stroke-width="1"/><line x1="664.4" y1="441.1" x2="667.2" y2="441.1" stroke="#8a8a8a" stroke-width="1"/><line x1="432.8" y1="444.94" x2="434.6" y2="444.94" stroke="#555" stroke-width="0.9"/><line x1="664.4" y1="444.94" x2="666.2" y2="444.94" stroke="#555" stroke-width="0.9"/><line x1="432.8" y1="448.77" x2="434.6" y2="448.77" stroke="#555" stroke-width="0.9"/><line x1="664.4" y1="448.77" x2="666.2" y2="448.77" stroke="#555" stroke-width="0.9"/><line x1="432.8" y1="452.61" x2="434.6" y2="452.61" stroke="#555" stroke-width="0.9"/><line x1="664.4" y1="452.61" x2="666.2" y2="452.61" stroke="#555" stroke-width="0.9"/><line x1="431.8" y1="456.45" x2="434.6" y2="456.45" stroke="#8a8a8a" stroke-width="1"/><line x1="664.4" y1="456.45" x2="667.2" y2="456.45" stroke="#8a8a8a" stroke-width="1"/><line x1="432.8" y1="460.29" x2="434.6" y2="460.29" stroke="#555" stroke-width="0.9"/><line x1="664.4" y1="460.29" x2="666.2" y2="460.29" stroke="#555" stroke-width="0.9"/><line x1="432.8" y1="464.13" x2="434.6" y2="464.13" stroke="#555" stroke-width="0.9"/><line x1="664.4" y1="464.13" x2="666.2" y2="464.13" stroke="#555" stroke-width="0.9"/><line x1="432.8" y1="467.97" x2="434.6" y2="467.97" stroke="#555" stroke-width="0.9"/><line x1="664.4" y1="467.97" x2="666.2" y2="467.97" stroke="#555" stroke-width="0.9"/><line x1="431.8" y1="471.81" x2="434.6" y2="471.81" stroke="#8a8a8a" stroke-width="1"/><line x1="664.4" y1="471.81" x2="667.2" y2="471.81" stroke="#8a8a8a" stroke-width="1"/><line x1="432.8" y1="475.65" x2="434.6" y2="475.65" stroke="#555" stroke-width="0.9"/><line x1="664.4" y1="475.65" x2="666.2" y2="475.65" stroke="#555" stroke-width="0.9"/><line x1="432.8" y1="479.49" x2="434.6" y2="479.49" stroke="#555" stroke-width="0.9"/><line x1="664.4" y1="479.49" x2="666.2" y2="479.49" stroke="#555" stroke-width="0.9"/><line x1="432.8" y1="483.33" x2="434.6" y2="483.33" stroke="#555" stroke-width="0.9"/><line x1="664.4" y1="483.33" x2="666.2" y2="483.33" stroke="#555" stroke-width="0.9"/><line x1="431.8" y1="487.16" x2="434.6" y2="487.16" stroke="#8a8a8a" stroke-width="1"/><line x1="664.4" y1="487.16" x2="667.2" y2="487.16" stroke="#8a8a8a" stroke-width="1"/><line x1="432.8" y1="491" x2="434.6" y2="491" stroke="#555" stroke-width="0.9"/><line x1="664.4" y1="491" x2="666.2" y2="491" stroke="#555" stroke-width="0.9"/><line x1="432.8" y1="494.84" x2="434.6" y2="494.84" stroke="#555" stroke-width="0.9"/><line x1="664.4" y1="494.84" x2="666.2" y2="494.84" stroke="#555" stroke-width="0.9"/><line x1="432.8" y1="498.68" x2="434.6" y2="498.68" stroke="#555" stroke-width="0.9"/><line x1="664.4" y1="498.68" x2="666.2" y2="498.68" stroke="#555" stroke-width="0.9"/><line x1="431.8" y1="502.52" x2="434.6" y2="502.52" stroke="#8a8a8a" stroke-width="1"/><line x1="664.4" y1="502.52" x2="667.2" y2="502.52" stroke="#8a8a8a" stroke-width="1"/><line x1="432.8" y1="506.36" x2="434.6" y2="506.36" stroke="#555" stroke-width="0.9"/><line x1="664.4" y1="506.36" x2="666.2" y2="506.36" stroke="#555" stroke-width="0.9"/><line x1="432.8" y1="510.2" x2="434.6" y2="510.2" stroke="#555" stroke-width="0.9"/><line x1="664.4" y1="510.2" x2="666.2" y2="510.2" stroke="#555" stroke-width="0.9"/><line x1="432.8" y1="514.04" x2="434.6" y2="514.04" stroke="#555" stroke-width="0.9"/><line x1="664.4" y1="514.04" x2="666.2" y2="514.04" stroke="#555" stroke-width="0.9"/><line x1="431.8" y1="517.88" x2="434.6" y2="517.88" stroke="#8a8a8a" stroke-width="1"/><line x1="664.4" y1="517.88" x2="667.2" y2="517.88" stroke="#8a8a8a" stroke-width="1"/><line x1="432.8" y1="521.72" x2="434.6" y2="521.72" stroke="#555" stroke-width="0.9"/><line x1="664.4" y1="521.72" x2="666.2" y2="521.72" stroke="#555" stroke-width="0.9"/><line x1="432.8" y1="525.55" x2="434.6" y2="525.55" stroke="#555" stroke-width="0.9"/><line x1="664.4" y1="525.55" x2="666.2" y2="525.55" stroke="#555" stroke-width="0.9"/><line x1="432.8" y1="529.39" x2="434.6" y2="529.39" stroke="#555" stroke-width="0.9"/><line x1="664.4" y1="529.39" x2="666.2" y2="529.39" stroke="#555" stroke-width="0.9"/><line x1="431.8" y1="533.23" x2="434.6" y2="533.23" stroke="#8a8a8a" stroke-width="1"/><line x1="664.4" y1="533.23" x2="667.2" y2="533.23" stroke="#8a8a8a" stroke-width="1"/><line x1="432.8" y1="537.07" x2="434.6" y2="537.07" stroke="#555" stroke-width="0.9"/><line x1="664.4" y1="537.07" x2="666.2" y2="537.07" stroke="#555" stroke-width="0.9"/><line x1="432.8" y1="540.91" x2="434.6" y2="540.91" stroke="#555" stroke-width="0.9"/><line x1="664.4" y1="540.91" x2="666.2" y2="540.91" stroke="#555" stroke-width="0.9"/><line x1="432.8" y1="544.75" x2="434.6" y2="544.75" stroke="#555" stroke-width="0.9"/><line x1="664.4" y1="544.75" x2="666.2" y2="544.75" stroke="#555" stroke-width="0.9"/><line x1="431.8" y1="548.59" x2="434.6" y2="548.59" stroke="#8a8a8a" stroke-width="1"/><line x1="664.4" y1="548.59" x2="667.2" y2="548.59" stroke="#8a8a8a" stroke-width="1"/><line x1="432.8" y1="552.43" x2="434.6" y2="552.43" stroke="#555" stroke-width="0.9"/><line x1="664.4" y1="552.43" x2="666.2" y2="552.43" stroke="#555" stroke-width="0.9"/><line x1="432.8" y1="556.27" x2="434.6" y2="556.27" stroke="#555" stroke-width="0.9"/><line x1="664.4" y1="556.27" x2="666.2" y2="556.27" stroke="#555" stroke-width="0.9"/><line x1="432.8" y1="560.11" x2="434.6" y2="560.11" stroke="#555" stroke-width="0.9"/><line x1="664.4" y1="560.11" x2="666.2" y2="560.11" stroke="#555" stroke-width="0.9"/><line x1="431.8" y1="563.94" x2="434.6" y2="563.94" stroke="#8a8a8a" stroke-width="1"/><line x1="664.4" y1="563.94" x2="667.2" y2="563.94" stroke="#8a8a8a" stroke-width="1"/><line x1="432.8" y1="567.78" x2="434.6" y2="567.78" stroke="#555" stroke-width="0.9"/><line x1="664.4" y1="567.78" x2="666.2" y2="567.78" stroke="#555" stroke-width="0.9"/><line x1="432.8" y1="571.62" x2="434.6" y2="571.62" stroke="#555" stroke-width="0.9"/><line x1="664.4" y1="571.62" x2="666.2" y2="571.62" stroke="#555" stroke-width="0.9"/><line x1="432.8" y1="575.46" x2="434.6" y2="575.46" stroke="#555" stroke-width="0.9"/><line x1="664.4" y1="575.46" x2="666.2" y2="575.46" stroke="#555" stroke-width="0.9"/><line x1="431.8" y1="579.3" x2="434.6" y2="579.3" stroke="#8a8a8a" stroke-width="1"/><line x1="664.4" y1="579.3" x2="667.2" y2="579.3" stroke="#8a8a8a" stroke-width="1"/><line x1="432.8" y1="583.14" x2="434.6" y2="583.14" stroke="#555" stroke-width="0.9"/><line x1="664.4" y1="583.14" x2="666.2" y2="583.14" stroke="#555" stroke-width="0.9"/><line x1="432.8" y1="586.98" x2="434.6" y2="586.98" stroke="#555" stroke-width="0.9"/><line x1="664.4" y1="586.98" x2="666.2" y2="586.98" stroke="#555" stroke-width="0.9"/><text x="422.1" y="59.8" font-size="8.2" fill="#383838" text-anchor="start" font-weight="normal" font-family='"Liberation Sans", sans-serif' stroke="#383838" stroke-width="0.2" textLength="8.1" lengthAdjust="spacingAndGlyphs">20</text><text x="668.8" y="59.8" font-size="8.2" fill="#383838" text-anchor="start" font-weight="normal" font-family='"Liberation Sans", sans-serif' stroke="#383838" stroke-width="0.2" textLength="8.1" lengthAdjust="spacingAndGlyphs">20</text><text x="422.1" y="75.15" font-size="8.2" fill="#383838" text-anchor="start" font-weight="normal" font-family='"Liberation Sans", sans-serif' stroke="#383838" stroke-width="0.2" textLength="8.1" lengthAdjust="spacingAndGlyphs">40</text><text x="668.8" y="75.15" font-size="8.2" fill="#383838" text-anchor="start" font-weight="normal" font-family='"Liberation Sans", sans-serif' stroke="#383838" stroke-width="0.2" textLength="8.1" lengthAdjust="spacingAndGlyphs">40</text><text x="422.1" y="90.51" font-size="8.2" fill="#383838" text-anchor="start" font-weight="normal" font-family='"Liberation Sans", sans-serif' stroke="#383838" stroke-width="0.2" textLength="8.1" lengthAdjust="spacingAndGlyphs">60</text><text x="668.8" y="90.51" font-size="8.2" fill="#383838" text-anchor="start" font-weight="normal" font-family='"Liberation Sans", sans-serif' stroke="#383838" stroke-width="0.2" textLength="8.1" lengthAdjust="spacingAndGlyphs">60</text><text x="422.1" y="105.86" font-size="8.2" fill="#383838" text-anchor="start" font-weight="normal" font-family='"Liberation Sans", sans-serif' stroke="#383838" stroke-width="0.2" textLength="8.1" lengthAdjust="spacingAndGlyphs">80</text><text x="668.8" y="105.86" font-size="8.2" fill="#383838" text-anchor="start" font-weight="normal" font-family='"Liberation Sans", sans-serif' stroke="#383838" stroke-width="0.2" textLength="8.1" lengthAdjust="spacingAndGlyphs">80</text><text x="418.05" y="121.22" font-size="8.2" fill="#383838" text-anchor="start" font-weight="normal" font-family='"Liberation Sans", sans-serif' stroke="#383838" stroke-width="0.2" textLength="12.15" lengthAdjust="spacingAndGlyphs">100</text><text x="668.8" y="121.22" font-size="8.2" fill="#383838" text-anchor="start" font-weight="normal" font-family='"Liberation Sans", sans-serif' stroke="#383838" stroke-width="0.2" textLength="12.15" lengthAdjust="spacingAndGlyphs">100</text><text x="418.05" y="136.58" font-size="8.2" fill="#383838" text-anchor="start" font-weight="normal" font-family='"Liberation Sans", sans-serif' stroke="#383838" stroke-width="0.2" textLength="12.15" lengthAdjust="spacingAndGlyphs">120</text><text x="668.8" y="136.58" font-size="8.2" fill="#383838" text-anchor="start" font-weight="normal" font-family='"Liberation Sans", sans-serif' stroke="#383838" stroke-width="0.2" textLength="12.15" lengthAdjust="spacingAndGlyphs">120</text><text x="418.05" y="151.93" font-size="8.2" fill="#383838" text-anchor="start" font-weight="normal" font-family='"Liberation Sans", sans-serif' stroke="#383838" stroke-width="0.2" textLength="12.15" lengthAdjust="spacingAndGlyphs">140</text><text x="668.8" y="151.93" font-size="8.2" fill="#383838" text-anchor="start" font-weight="normal" font-family='"Liberation Sans", sans-serif' stroke="#383838" stroke-width="0.2" textLength="12.15" lengthAdjust="spacingAndGlyphs">140</text><text x="418.05" y="167.29" font-size="8.2" fill="#383838" text-anchor="start" font-weight="normal" font-family='"Liberation Sans", sans-serif' stroke="#383838" stroke-width="0.2" textLength="12.15" lengthAdjust="spacingAndGlyphs">160</text><text x="668.8" y="167.29" font-size="8.2" fill="#383838" text-anchor="start" font-weight="normal" font-family='"Liberation Sans", sans-serif' stroke="#383838" stroke-width="0.2" textLength="12.15" lengthAdjust="spacingAndGlyphs">160</text><text x="418.05" y="182.64" font-size="8.2" fill="#383838" text-anchor="start" font-weight="normal" font-family='"Liberation Sans", sans-serif' stroke="#383838" stroke-width="0.2" textLength="12.15" lengthAdjust="spacingAndGlyphs">180</text><text x="668.8" y="182.64" font-size="8.2" fill="#383838" text-anchor="start" font-weight="normal" font-family='"Liberation Sans", sans-serif' stroke="#383838" stroke-width="0.2" textLength="12.15" lengthAdjust="spacingAndGlyphs">180</text><text x="418.05" y="198" font-size="8.2" fill="#383838" text-anchor="start" font-weight="normal" font-family='"Liberation Sans", sans-serif' stroke="#383838" stroke-width="0.2" textLength="12.15" lengthAdjust="spacingAndGlyphs">200</text><text x="668.8" y="198" font-size="8.2" fill="#383838" text-anchor="start" font-weight="normal" font-family='"Liberation Sans", sans-serif' stroke="#383838" stroke-width="0.2" textLength="12.15" lengthAdjust="spacingAndGlyphs">200</text><text x="418.05" y="213.36" font-size="8.2" fill="#383838" text-anchor="start" font-weight="normal" font-family='"Liberation Sans", sans-serif' stroke="#383838" stroke-width="0.2" textLength="12.15" lengthAdjust="spacingAndGlyphs">220</text><text x="668.8" y="213.36" font-size="8.2" fill="#383838" text-anchor="start" font-weight="normal" font-family='"Liberation Sans", sans-serif' stroke="#383838" stroke-width="0.2" textLength="12.15" lengthAdjust="spacingAndGlyphs">220</text><text x="418.05" y="228.71" font-size="8.2" fill="#383838" text-anchor="start" font-weight="normal" font-family='"Liberation Sans", sans-serif' stroke="#383838" stroke-width="0.2" textLength="12.15" lengthAdjust="spacingAndGlyphs">240</text><text x="668.8" y="228.71" font-size="8.2" fill="#383838" text-anchor="start" font-weight="normal" font-family='"Liberation Sans", sans-serif' stroke="#383838" stroke-width="0.2" textLength="12.15" lengthAdjust="spacingAndGlyphs">240</text><text x="418.05" y="244.07" font-size="8.2" fill="#383838" text-anchor="start" font-weight="normal" font-family='"Liberation Sans", sans-serif' stroke="#383838" stroke-width="0.2" textLength="12.15" lengthAdjust="spacingAndGlyphs">260</text><text x="668.8" y="244.07" font-size="8.2" fill="#383838" text-anchor="start" font-weight="normal" font-family='"Liberation Sans", sans-serif' stroke="#383838" stroke-width="0.2" textLength="12.15" lengthAdjust="spacingAndGlyphs">260</text><text x="418.05" y="259.42" font-size="8.2" fill="#383838" text-anchor="start" font-weight="normal" font-family='"Liberation Sans", sans-serif' stroke="#383838" stroke-width="0.2" textLength="12.15" lengthAdjust="spacingAndGlyphs">280</text><text x="668.8" y="259.42" font-size="8.2" fill="#383838" text-anchor="start" font-weight="normal" font-family='"Liberation Sans", sans-serif' stroke="#383838" stroke-width="0.2" textLength="12.15" lengthAdjust="spacingAndGlyphs">280</text><text x="418.05" y="274.78" font-size="8.2" fill="#383838" text-anchor="start" font-weight="normal" font-family='"Liberation Sans", sans-serif' stroke="#383838" stroke-width="0.2" textLength="12.15" lengthAdjust="spacingAndGlyphs">300</text><text x="668.8" y="274.78" font-size="8.2" fill="#383838" text-anchor="start" font-weight="normal" font-family='"Liberation Sans", sans-serif' stroke="#383838" stroke-width="0.2" textLength="12.15" lengthAdjust="spacingAndGlyphs">300</text><text x="418.05" y="290.14" font-size="8.2" fill="#383838" text-anchor="start" font-weight="normal" font-family='"Liberation Sans", sans-serif' stroke="#383838" stroke-width="0.2" textLength="12.15" lengthAdjust="spacingAndGlyphs">320</text><text x="668.8" y="290.14" font-size="8.2" fill="#383838" text-anchor="start" font-weight="normal" font-family='"Liberation Sans", sans-serif' stroke="#383838" stroke-width="0.2" textLength="12.15" lengthAdjust="spacingAndGlyphs">320</text><text x="418.05" y="305.49" font-size="8.2" fill="#383838" text-anchor="start" font-weight="normal" font-family='"Liberation Sans", sans-serif' stroke="#383838" stroke-width="0.2" textLength="12.15" lengthAdjust="spacingAndGlyphs">340</text><text x="668.8" y="305.49" font-size="8.2" fill="#383838" text-anchor="start" font-weight="normal" font-family='"Liberation Sans", sans-serif' stroke="#383838" stroke-width="0.2" textLength="12.15" lengthAdjust="spacingAndGlyphs">340</text><text x="418.05" y="320.85" font-size="8.2" fill="#383838" text-anchor="start" font-weight="normal" font-family='"Liberation Sans", sans-serif' stroke="#383838" stroke-width="0.2" textLength="12.15" lengthAdjust="spacingAndGlyphs">360</text><text x="668.8" y="320.85" font-size="8.2" fill="#383838" text-anchor="start" font-weight="normal" font-family='"Liberation Sans", sans-serif' stroke="#383838" stroke-width="0.2" textLength="12.15" lengthAdjust="spacingAndGlyphs">360</text><text x="418.05" y="336.2" font-size="8.2" fill="#383838" text-anchor="start" font-weight="normal" font-family='"Liberation Sans", sans-serif' stroke="#383838" stroke-width="0.2" textLength="12.15" lengthAdjust="spacingAndGlyphs">380</text><text x="668.8" y="336.2" font-size="8.2" fill="#383838" text-anchor="start" font-weight="normal" font-family='"Liberation Sans", sans-serif' stroke="#383838" stroke-width="0.2" textLength="12.15" lengthAdjust="spacingAndGlyphs">380</text><text x="418.05" y="351.56" font-size="8.2" fill="#383838" text-anchor="start" font-weight="normal" font-family='"Liberation Sans", sans-serif' stroke="#383838" stroke-width="0.2" textLength="12.15" lengthAdjust="spacingAndGlyphs">400</text><text x="668.8" y="351.56" font-size="8.2" fill="#383838" text-anchor="start" font-weight="normal" font-family='"Liberation Sans", sans-serif' stroke="#383838" stroke-width="0.2" textLength="12.15" lengthAdjust="spacingAndGlyphs">400</text><text x="418.05" y="366.92" font-size="8.2" fill="#383838" text-anchor="start" font-weight="normal" font-family='"Liberation Sans", sans-serif' stroke="#383838" stroke-width="0.2" textLength="12.15" lengthAdjust="spacingAndGlyphs">420</text><text x="668.8" y="366.92" font-size="8.2" fill="#383838" text-anchor="start" font-weight="normal" font-family='"Liberation Sans", sans-serif' stroke="#383838" stroke-width="0.2" textLength="12.15" lengthAdjust="spacingAndGlyphs">420</text><text x="418.05" y="382.27" font-size="8.2" fill="#383838" text-anchor="start" font-weight="normal" font-family='"Liberation Sans", sans-serif' stroke="#383838" stroke-width="0.2" textLength="12.15" lengthAdjust="spacingAndGlyphs">440</text><text x="668.8" y="382.27" font-size="8.2" fill="#383838" text-anchor="start" font-weight="normal" font-family='"Liberation Sans", sans-serif' stroke="#383838" stroke-width="0.2" textLength="12.15" lengthAdjust="spacingAndGlyphs">440</text><text x="418.05" y="397.63" font-size="8.2" fill="#383838" text-anchor="start" font-weight="normal" font-family='"Liberation Sans", sans-serif' stroke="#383838" stroke-width="0.2" textLength="12.15" lengthAdjust="spacingAndGlyphs">460</text><text x="668.8" y="397.63" font-size="8.2" fill="#383838" text-anchor="start" font-weight="normal" font-family='"Liberation Sans", sans-serif' stroke="#383838" stroke-width="0.2" textLength="12.15" lengthAdjust="spacingAndGlyphs">460</text><text x="418.05" y="412.98" font-size="8.2" fill="#383838" text-anchor="start" font-weight="normal" font-family='"Liberation Sans", sans-serif' stroke="#383838" stroke-width="0.2" textLength="12.15" lengthAdjust="spacingAndGlyphs">480</text><text x="668.8" y="412.98" font-size="8.2" fill="#383838" text-anchor="start" font-weight="normal" font-family='"Liberation Sans", sans-serif' stroke="#383838" stroke-width="0.2" textLength="12.15" lengthAdjust="spacingAndGlyphs">480</text><text x="418.05" y="428.34" font-size="8.2" fill="#383838" text-anchor="start" font-weight="normal" font-family='"Liberation Sans", sans-serif' stroke="#383838" stroke-width="0.2" textLength="12.15" lengthAdjust="spacingAndGlyphs">500</text><text x="668.8" y="428.34" font-size="8.2" fill="#383838" text-anchor="start" font-weight="normal" font-family='"Liberation Sans", sans-serif' stroke="#383838" stroke-width="0.2" textLength="12.15" lengthAdjust="spacingAndGlyphs">500</text><text x="418.05" y="443.7" font-size="8.2" fill="#383838" text-anchor="start" font-weight="normal" font-family='"Liberation Sans", sans-serif' stroke="#383838" stroke-width="0.2" textLength="12.15" lengthAdjust="spacingAndGlyphs">520</text><text x="668.8" y="443.7" font-size="8.2" fill="#383838" text-anchor="start" font-weight="normal" font-family='"Liberation Sans", sans-serif' stroke="#383838" stroke-width="0.2" textLength="12.15" lengthAdjust="spacingAndGlyphs">520</text><text x="418.05" y="459.05" font-size="8.2" fill="#383838" text-anchor="start" font-weight="normal" font-family='"Liberation Sans", sans-serif' stroke="#383838" stroke-width="0.2" textLength="12.15" lengthAdjust="spacingAndGlyphs">540</text><text x="668.8" y="459.05" font-size="8.2" fill="#383838" text-anchor="start" font-weight="normal" font-family='"Liberation Sans", sans-serif' stroke="#383838" stroke-width="0.2" textLength="12.15" lengthAdjust="spacingAndGlyphs">540</text><text x="418.05" y="474.41" font-size="8.2" fill="#383838" text-anchor="start" font-weight="normal" font-family='"Liberation Sans", sans-serif' stroke="#383838" stroke-width="0.2" textLength="12.15" lengthAdjust="spacingAndGlyphs">560</text><text x="668.8" y="474.41" font-size="8.2" fill="#383838" text-anchor="start" font-weight="normal" font-family='"Liberation Sans", sans-serif' stroke="#383838" stroke-width="0.2" textLength="12.15" lengthAdjust="spacingAndGlyphs">560</text><text x="418.05" y="489.76" font-size="8.2" fill="#383838" text-anchor="start" font-weight="normal" font-family='"Liberation Sans", sans-serif' stroke="#383838" stroke-width="0.2" textLength="12.15" lengthAdjust="spacingAndGlyphs">580</text><text x="668.8" y="489.76" font-size="8.2" fill="#383838" text-anchor="start" font-weight="normal" font-family='"Liberation Sans", sans-serif' stroke="#383838" stroke-width="0.2" textLength="12.15" lengthAdjust="spacingAndGlyphs">580</text><text x="418.05" y="505.12" font-size="8.2" fill="#383838" text-anchor="start" font-weight="normal" font-family='"Liberation Sans", sans-serif' stroke="#383838" stroke-width="0.2" textLength="12.15" lengthAdjust="spacingAndGlyphs">600</text><text x="668.8" y="505.12" font-size="8.2" fill="#383838" text-anchor="start" font-weight="normal" font-family='"Liberation Sans", sans-serif' stroke="#383838" stroke-width="0.2" textLength="12.15" lengthAdjust="spacingAndGlyphs">600</text><text x="418.05" y="520.48" font-size="8.2" fill="#383838" text-anchor="start" font-weight="normal" font-family='"Liberation Sans", sans-serif' stroke="#383838" stroke-width="0.2" textLength="12.15" lengthAdjust="spacingAndGlyphs">620</text><text x="668.8" y="520.48" font-size="8.2" fill="#383838" text-anchor="start" font-weight="normal" font-family='"Liberation Sans", sans-serif' stroke="#383838" stroke-width="0.2" textLength="12.15" lengthAdjust="spacingAndGlyphs">620</text><text x="418.05" y="535.83" font-size="8.2" fill="#383838" text-anchor="start" font-weight="normal" font-family='"Liberation Sans", sans-serif' stroke="#383838" stroke-width="0.2" textLength="12.15" lengthAdjust="spacingAndGlyphs">640</text><text x="668.8" y="535.83" font-size="8.2" fill="#383838" text-anchor="start" font-weight="normal" font-family='"Liberation Sans", sans-serif' stroke="#383838" stroke-width="0.2" textLength="12.15" lengthAdjust="spacingAndGlyphs">640</text><text x="418.05" y="551.19" font-size="8.2" fill="#383838" text-anchor="start" font-weight="normal" font-family='"Liberation Sans", sans-serif' stroke="#383838" stroke-width="0.2" textLength="12.15" lengthAdjust="spacingAndGlyphs">660</text><text x="668.8" y="551.19" font-size="8.2" fill="#383838" text-anchor="start" font-weight="normal" font-family='"Liberation Sans", sans-serif' stroke="#383838" stroke-width="0.2" textLength="12.15" lengthAdjust="spacingAndGlyphs">660</text><text x="418.05" y="566.54" font-size="8.2" fill="#383838" text-anchor="start" font-weight="normal" font-family='"Liberation Sans", sans-serif' stroke="#383838" stroke-width="0.2" textLength="12.15" lengthAdjust="spacingAndGlyphs">680</text><text x="668.8" y="566.54" font-size="8.2" fill="#383838" text-anchor="start" font-weight="normal" font-family='"Liberation Sans", sans-serif' stroke="#383838" stroke-width="0.2" textLength="12.15" lengthAdjust="spacingAndGlyphs">680</text><text x="418.05" y="581.9" font-size="8.2" fill="#383838" text-anchor="start" font-weight="normal" font-family='"Liberation Sans", sans-serif' stroke="#383838" stroke-width="0.2" textLength="12.15" lengthAdjust="spacingAndGlyphs">700</text><text x="668.8" y="581.9" font-size="8.2" fill="#383838" text-anchor="start" font-weight="normal" font-family='"Liberation Sans", sans-serif' stroke="#383838" stroke-width="0.2" textLength="12.15" lengthAdjust="spacingAndGlyphs">700</text><text x="446.8" y="37.4" font-size="10.6" fill="#111" text-anchor="start" font-weight="bold" font-family='"Liberation Sans", sans-serif' textLength="32.4" lengthAdjust="spacingAndGlyphs">Well 6</text><polyline points="591.38,41.9 591.38,70.63 604.57,70.63 604.57,91.22 510.43,91.22 510.43,172.19 491.39,172.19 491.39,462.55 507.77,462.55 507.77,540.1 532.65,540.1 532.65,590.3" fill="none" stroke="#3a3a3a" stroke-width="1.2"/><text x="478.0" y="619.6" font-family='"Liberation Serif", serif' font-weight="bold" fill="#7412ee" font-size="15" textLength="131.4" lengthAdjust="spacingAndGlyphs" style="filter:url(#sh)">Resistivity (Ohm.m)</text><text transform="translate(401.0,292.6) rotate(-90)" font-family='"Liberation Serif", serif' font-weight="bold" fill="#7412ee" font-size="15" text-anchor="middle" style="filter:url(#sh)">Depth (m)</text></svg></body></html>
